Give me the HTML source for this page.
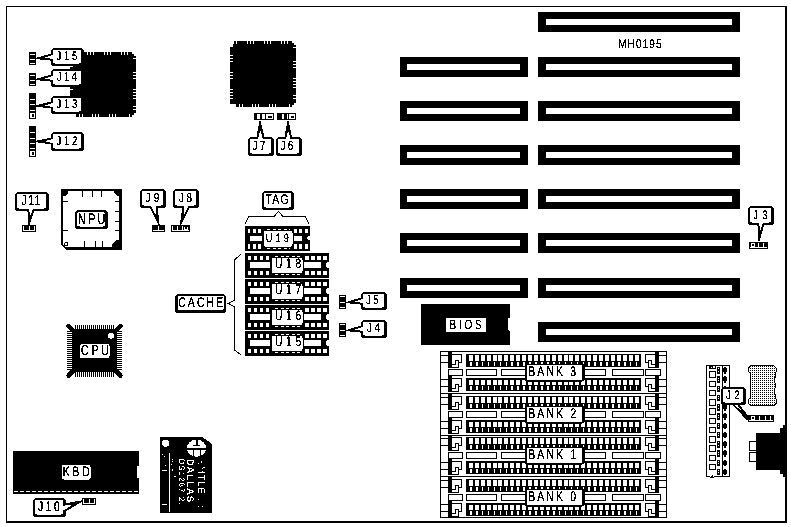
<!DOCTYPE html>
<html><head><meta charset="utf-8"><title>MH0195</title>
<style>
html,body{margin:0;padding:0;background:#fff;overflow:hidden;}
svg{display:block;}
text{font-family:"Liberation Sans",sans-serif;}
</style></head>
<body>
<svg width="791" height="527" viewBox="0 0 791 527" shape-rendering="crispEdges" text-rendering="geometricPrecision">
<defs><filter id="bw" x="0" y="0" width="791" height="527" filterUnits="userSpaceOnUse" color-interpolation-filters="sRGB"><feColorMatrix type="saturate" values="0"/><feComponentTransfer><feFuncR type="discrete" tableValues="0 0 0 1 1"/><feFuncG type="discrete" tableValues="0 0 0 1 1"/><feFuncB type="discrete" tableValues="0 0 0 1 1"/></feComponentTransfer></filter></defs>
<g filter="url(#bw)">
<rect x="0" y="0" width="791" height="527" fill="#fff"/>
<rect x="6" y="6" width="1" height="517" fill="#000"/>
<rect x="6" y="6" width="781" height="1" fill="#000"/>
<rect x="785" y="6" width="2" height="517" fill="#000"/>
<rect x="6" y="521" width="781" height="2" fill="#000"/>
<polygon points="74,52 132,52 132,54 134,54 134,56 136,56 136,113 134,113 134,115 132,115 132,117 76,117 76,114 70,114 70,58 73,58 73,55 74,55" fill="#000"/>
<rect x="76" y="52" width="1" height="3" fill="#fff"/>
<rect x="87" y="52" width="1" height="3" fill="#fff"/>
<rect x="90" y="52" width="1" height="3" fill="#fff"/>
<rect x="93" y="52" width="1" height="3" fill="#fff"/>
<rect x="104" y="52" width="1" height="3" fill="#fff"/>
<rect x="107" y="52" width="1" height="3" fill="#fff"/>
<rect x="110" y="52" width="1" height="3" fill="#fff"/>
<rect x="121" y="52" width="1" height="3" fill="#fff"/>
<rect x="124" y="52" width="1" height="3" fill="#fff"/>
<rect x="127" y="52" width="1" height="3" fill="#fff"/>
<rect x="79" y="114" width="1" height="3" fill="#fff"/>
<rect x="82" y="114" width="1" height="3" fill="#fff"/>
<rect x="92" y="114" width="1" height="3" fill="#fff"/>
<rect x="95" y="114" width="1" height="3" fill="#fff"/>
<rect x="98" y="114" width="1" height="3" fill="#fff"/>
<rect x="109" y="114" width="1" height="3" fill="#fff"/>
<rect x="112" y="114" width="1" height="3" fill="#fff"/>
<rect x="115" y="114" width="1" height="3" fill="#fff"/>
<rect x="129" y="114" width="1" height="3" fill="#fff"/>
<rect x="70" y="66" width="3" height="1" fill="#fff"/>
<rect x="70" y="69" width="3" height="1" fill="#fff"/>
<rect x="70" y="72" width="3" height="1" fill="#fff"/>
<rect x="70" y="83" width="3" height="1" fill="#fff"/>
<rect x="70" y="86" width="3" height="1" fill="#fff"/>
<rect x="70" y="89" width="3" height="1" fill="#fff"/>
<rect x="70" y="100" width="3" height="1" fill="#fff"/>
<rect x="70" y="103" width="3" height="1" fill="#fff"/>
<rect x="70" y="106" width="3" height="1" fill="#fff"/>
<rect x="70" y="109" width="3" height="1" fill="#fff"/>
<rect x="133" y="58" width="3" height="1" fill="#fff"/>
<rect x="133" y="72" width="3" height="1" fill="#fff"/>
<rect x="133" y="75" width="3" height="1" fill="#fff"/>
<rect x="133" y="78" width="3" height="1" fill="#fff"/>
<rect x="133" y="89" width="3" height="1" fill="#fff"/>
<rect x="133" y="92" width="3" height="1" fill="#fff"/>
<rect x="133" y="95" width="3" height="1" fill="#fff"/>
<rect x="133" y="98" width="3" height="1" fill="#fff"/>
<rect x="133" y="106" width="3" height="1" fill="#fff"/>
<rect x="133" y="109" width="3" height="1" fill="#fff"/>
<polygon points="234,41 292,41 292,43 294,43 294,45 296,45 296,103 294,103 294,105 292,105 292,107 236,107 236,104 230,104 230,47 233,47 233,44 234,44" fill="#000"/>
<rect x="236" y="41" width="1" height="3" fill="#fff"/>
<rect x="247" y="41" width="1" height="3" fill="#fff"/>
<rect x="250" y="41" width="1" height="3" fill="#fff"/>
<rect x="253" y="41" width="1" height="3" fill="#fff"/>
<rect x="264" y="41" width="1" height="3" fill="#fff"/>
<rect x="267" y="41" width="1" height="3" fill="#fff"/>
<rect x="270" y="41" width="1" height="3" fill="#fff"/>
<rect x="281" y="41" width="1" height="3" fill="#fff"/>
<rect x="284" y="41" width="1" height="3" fill="#fff"/>
<rect x="287" y="41" width="1" height="3" fill="#fff"/>
<rect x="239" y="104" width="1" height="3" fill="#fff"/>
<rect x="242" y="104" width="1" height="3" fill="#fff"/>
<rect x="252" y="104" width="1" height="3" fill="#fff"/>
<rect x="255" y="104" width="1" height="3" fill="#fff"/>
<rect x="258" y="104" width="1" height="3" fill="#fff"/>
<rect x="269" y="104" width="1" height="3" fill="#fff"/>
<rect x="272" y="104" width="1" height="3" fill="#fff"/>
<rect x="275" y="104" width="1" height="3" fill="#fff"/>
<rect x="289" y="104" width="1" height="3" fill="#fff"/>
<rect x="230" y="55" width="3" height="1" fill="#fff"/>
<rect x="230" y="58" width="3" height="1" fill="#fff"/>
<rect x="230" y="61" width="3" height="1" fill="#fff"/>
<rect x="230" y="72" width="3" height="1" fill="#fff"/>
<rect x="230" y="75" width="3" height="1" fill="#fff"/>
<rect x="230" y="78" width="3" height="1" fill="#fff"/>
<rect x="230" y="89" width="3" height="1" fill="#fff"/>
<rect x="230" y="92" width="3" height="1" fill="#fff"/>
<rect x="230" y="95" width="3" height="1" fill="#fff"/>
<rect x="230" y="98" width="3" height="1" fill="#fff"/>
<rect x="293" y="47" width="3" height="1" fill="#fff"/>
<rect x="293" y="61" width="3" height="1" fill="#fff"/>
<rect x="293" y="64" width="3" height="1" fill="#fff"/>
<rect x="293" y="67" width="3" height="1" fill="#fff"/>
<rect x="293" y="78" width="3" height="1" fill="#fff"/>
<rect x="293" y="81" width="3" height="1" fill="#fff"/>
<rect x="293" y="84" width="3" height="1" fill="#fff"/>
<rect x="293" y="87" width="3" height="1" fill="#fff"/>
<rect x="293" y="95" width="3" height="1" fill="#fff"/>
<rect x="293" y="98" width="3" height="1" fill="#fff"/>
<rect x="29" y="52" width="7" height="13" fill="#000"/>
<rect x="30" y="54" width="5" height="1" fill="#fff"/>
<rect x="30" y="59" width="5" height="1" fill="#fff"/>
<rect x="30" y="63" width="5" height="1" fill="#fff"/>
<rect x="29" y="73" width="7" height="13" fill="#000"/>
<rect x="30" y="75" width="5" height="1" fill="#fff"/>
<rect x="30" y="80" width="5" height="1" fill="#fff"/>
<rect x="30" y="84" width="5" height="1" fill="#fff"/>
<rect x="29" y="93" width="7" height="26" fill="#000"/>
<rect x="30" y="99" width="5" height="1" fill="#fff"/>
<rect x="30" y="104" width="5" height="1" fill="#fff"/>
<rect x="30" y="110" width="5" height="1" fill="#fff"/>
<rect x="30" y="113" width="5" height="5" fill="#fff"/>
<rect x="31.5" y="114.2" width="2.0" height="2.6" fill="#000"/>
<rect x="29" y="126" width="7" height="31" fill="#000"/>
<rect x="30" y="132" width="5" height="1" fill="#fff"/>
<rect x="30" y="138" width="5" height="1" fill="#fff"/>
<rect x="30" y="143" width="5" height="1" fill="#fff"/>
<rect x="30" y="148" width="5" height="1" fill="#fff"/>
<rect x="30" y="151" width="5" height="5" fill="#fff"/>
<rect x="31.5" y="152.2" width="2.0" height="2.6" fill="#000"/>
<polygon points="36,58.5 52,54 52,60" fill="#000" stroke="#000" stroke-width="1.3" stroke-linejoin="round"/>
<rect x="51" y="48" width="33" height="18" rx="3.5" ry="3.5" fill="#000"/>
<rect x="52.5" y="49.5" width="28.5" height="14.0" rx="2.5" ry="2.5" fill="#fff"/>
<polygon points="44.8,57.67 52.0,55.14 55.19,54.84 55.19,58.56 52.0,58.86" fill="#fff"/>
<text transform="translate(56.51,60.0) scale(0.75,1)" font-size="12.5" font-weight="normal" letter-spacing="3.74" fill="#000" stroke="#000" stroke-width="0.12">J15</text>
<polygon points="36,79.5 52,75 52,81" fill="#000" stroke="#000" stroke-width="1.3" stroke-linejoin="round"/>
<rect x="51" y="69" width="33" height="18" rx="3.5" ry="3.5" fill="#000"/>
<rect x="52.5" y="70.5" width="28.5" height="14.0" rx="2.5" ry="2.5" fill="#fff"/>
<polygon points="44.8,78.67 52.0,76.14 55.19,75.84 55.19,79.56 52.0,79.86" fill="#fff"/>
<text transform="translate(56.86,81.05) scale(0.75,1)" font-size="12.65" font-weight="normal" letter-spacing="3.09" fill="#000" stroke="#000" stroke-width="0.12">J14</text>
<polygon points="36,106 52,102 52,108" fill="#000" stroke="#000" stroke-width="1.3" stroke-linejoin="round"/>
<rect x="51" y="96" width="33" height="18" rx="3.5" ry="3.5" fill="#000"/>
<rect x="52.5" y="97.5" width="28.5" height="14.0" rx="2.5" ry="2.5" fill="#fff"/>
<polygon points="44.8,105.45 52.0,103.14 55.19,102.94 55.19,106.66 52.0,106.86" fill="#fff"/>
<text transform="translate(56.61,108.0) scale(0.75,1)" font-size="12.5" font-weight="normal" letter-spacing="3.62" fill="#000" stroke="#000" stroke-width="0.12">J13</text>
<polygon points="36,141.5 52,138 52,144" fill="#000" stroke="#000" stroke-width="1.3" stroke-linejoin="round"/>
<rect x="51" y="132" width="33" height="19" rx="3.5" ry="3.5" fill="#000"/>
<rect x="52.5" y="133.5" width="28.5" height="15.0" rx="2.5" ry="2.5" fill="#fff"/>
<polygon points="44.8,141.22 52.0,139.14 55.2,139.04 55.2,142.76 52.0,142.86" fill="#fff"/>
<text transform="translate(56.61,144.5) scale(0.75,1)" font-size="12.5" font-weight="normal" letter-spacing="3.66" fill="#000" stroke="#000" stroke-width="0.12">J12</text>
<rect x="254" y="113" width="20" height="7" fill="#000"/>
<rect x="257" y="114" width="2.5" height="5" fill="#fff"/>
<rect x="262" y="114" width="2.5" height="5" fill="#fff"/>
<rect x="266" y="114" width="7" height="5" fill="#fff"/>
<rect x="267.5" y="115.5" width="4.0" height="2.0" fill="#000"/>
<rect x="277" y="113" width="19" height="7" fill="#000"/>
<rect x="282" y="114" width="2" height="5" fill="#fff"/>
<rect x="286.5" y="114" width="1.5" height="5" fill="#fff"/>
<rect x="289" y="114" width="6" height="5" fill="#fff"/>
<rect x="290.5" y="115.5" width="3.0" height="2.0" fill="#000"/>
<polygon points="260,121 257,138 264,138" fill="#000" stroke="#000" stroke-width="1.3" stroke-linejoin="round"/>
<rect x="248" y="137" width="26" height="19" rx="3.5" ry="3.5" fill="#000"/>
<rect x="249.5" y="138.5" width="21.5" height="15.0" rx="2.5" ry="2.5" fill="#fff"/>
<polygon points="260.27,130.35 258.33,138.0 258.42,141.2 262.76,141.2 262.67,138.0" fill="#fff"/>
<text transform="translate(252.6,149.75) scale(0.75,1)" font-size="13.23" font-weight="normal" letter-spacing="2.89" fill="#000" stroke="#000" stroke-width="0.12">J7</text>
<polygon points="288,121 285,138 291.5,138" fill="#000" stroke="#000" stroke-width="1.3" stroke-linejoin="round"/>
<rect x="276" y="137" width="26" height="19" rx="3.5" ry="3.5" fill="#000"/>
<rect x="277.5" y="138.5" width="21.5" height="15.0" rx="2.5" ry="2.5" fill="#fff"/>
<polygon points="288.14,130.35 286.24,138.0 286.28,141.2 290.31,141.2 290.26,138.0" fill="#fff"/>
<text transform="translate(280.6,149.75) scale(0.75,1)" font-size="13.23" font-weight="normal" letter-spacing="2.8" fill="#000" stroke="#000" stroke-width="0.12">J6</text>
<polygon points="29,225 28,209 34,209" fill="#000" stroke="#000" stroke-width="1.3" stroke-linejoin="round"/>
<rect x="15" y="192" width="34" height="19" rx="3.5" ry="3.5" fill="#000"/>
<rect x="16.5" y="193.5" width="29.5" height="15.0" rx="2.5" ry="2.5" fill="#fff"/>
<polygon points="30.1,216.2 29.14,209.0 29.54,205.82 33.26,205.82 32.86,209.0" fill="#fff"/>
<text transform="translate(21.59,205.15) scale(0.75,1)" font-size="14.39" font-weight="normal" letter-spacing="1.52" fill="#000" stroke="#000" stroke-width="0.12">J11</text>
<rect x="22" y="225" width="14" height="7" fill="#000"/>
<rect x="23" y="230" width="12" height="1" fill="#fff"/>
<rect x="23" y="226.2" width="1" height="4.3" fill="#fff"/>
<rect x="28.5" y="226.2" width="1.0" height="4.3" fill="#fff"/>
<rect x="34" y="226.2" width="1" height="4.3" fill="#fff"/>
<polygon points="159,225 150,207 157,207" fill="#000" stroke="#000" stroke-width="1.3" stroke-linejoin="round"/>
<rect x="140" y="189" width="26" height="19" rx="3.5" ry="3.5" fill="#000"/>
<rect x="141.5" y="190.5" width="21.5" height="15.0" rx="2.5" ry="2.5" fill="#fff"/>
<polygon points="155.97,215.1 151.33,207.0 150.39,203.94 154.73,203.94 155.67,207.0" fill="#fff"/>
<text transform="translate(145.6,201.75) scale(0.75,1)" font-size="13.23" font-weight="normal" letter-spacing="4.19" fill="#000" stroke="#000" stroke-width="0.12">J9</text>
<polygon points="180.5,225 183,207 189.5,207" fill="#000" stroke="#000" stroke-width="1.3" stroke-linejoin="round"/>
<rect x="173" y="189" width="26" height="19" rx="3.5" ry="3.5" fill="#000"/>
<rect x="174.5" y="190.5" width="21.5" height="15.0" rx="2.5" ry="2.5" fill="#fff"/>
<polygon points="183.66,215.1 184.24,207.0 185.21,203.95 189.24,203.95 188.26,207.0" fill="#fff"/>
<text transform="translate(178.75,201.75) scale(0.75,1)" font-size="13.23" font-weight="normal" letter-spacing="3.73" fill="#000" stroke="#000" stroke-width="0.12">J8</text>
<rect x="152" y="225" width="13" height="7" fill="#000"/>
<rect x="153" y="230" width="11" height="1" fill="#fff"/>
<rect x="158.0" y="226.2" width="1.0" height="4.3" fill="#fff"/>
<rect x="171" y="225" width="19" height="7" fill="#000"/>
<rect x="172" y="229.5" width="17" height="1.5" fill="#fff"/>
<rect x="172" y="226" width="1" height="3.5" fill="#fff"/>
<rect x="177" y="226" width="1" height="3.5" fill="#fff"/>
<rect x="182" y="226" width="1" height="3.5" fill="#fff"/>
<rect x="184" y="226.5" width="4" height="3.0" fill="#fff"/>
<rect x="185.3" y="227.3" width="1.7" height="1.4" fill="#000"/>
<rect x="61" y="189" width="61" height="61" fill="#000"/>
<rect x="63" y="191" width="56" height="56" fill="#fff"/>
<polygon points="63,191 68,191 68,193 65,196 63,196" fill="#000"/>
<polygon points="119,191 114,191 114,193 117,196 119,196" fill="#000"/>
<polygon points="119,247 112,247 112,244 116,240 119,240" fill="#000"/>
<polygon points="61,250 61,244 67,250" fill="#fff"/>
<polygon points="61,243 68,250 66,250 61,245" fill="#000"/>
<circle cx="66" cy="244" r="2" fill="#fff" stroke="#000" stroke-width="0.8"/>
<rect x="82" y="191" width="1" height="6" fill="#000"/>
<rect x="92" y="191" width="1" height="6" fill="#000"/>
<rect x="101" y="191" width="1" height="6" fill="#000"/>
<rect x="84" y="241" width="1" height="6" fill="#000"/>
<rect x="95" y="241" width="1" height="6" fill="#000"/>
<rect x="102" y="241" width="1" height="6" fill="#000"/>
<rect x="63" y="201" width="5" height="1" fill="#000"/>
<rect x="63" y="230" width="5" height="1" fill="#000"/>
<rect x="115" y="201" width="4" height="1" fill="#000"/>
<rect x="115" y="211" width="4" height="1" fill="#000"/>
<rect x="115" y="221" width="4" height="1" fill="#000"/>
<rect x="115" y="230" width="4" height="1" fill="#000"/>
<rect x="75" y="210" width="33" height="19" rx="3.5" ry="3.5" fill="#000"/>
<rect x="77" y="212" width="28" height="14.5" rx="2.5" ry="2.5" fill="#fff"/>
<text transform="translate(77.77,223.65) scale(0.75,1)" font-size="15.12" font-weight="normal" letter-spacing="2.57" fill="#000" stroke="#000" stroke-width="0.12">NPU</text>
<rect x="262" y="191" width="32" height="19" rx="3.5" ry="3.5" fill="#000"/>
<rect x="263.5" y="192.5" width="27.5" height="15.0" rx="2.5" ry="2.5" fill="#fff"/>
<text transform="translate(265.52,204.0) scale(0.75,1)" font-size="13.95" font-weight="normal" letter-spacing="1.66" fill="#000" stroke="#000" stroke-width="0.12">TAG</text>
<polyline points="245,223.5 249,216.5 274,216.5 278.5,211.5 283,216.5 305,216.5 309,223.5" fill="none" stroke="#000" stroke-width="1"/>
<rect x="245" y="226" width="65" height="25" fill="#000"/>
<rect x="247.5" y="228.5" width="2.9" height="4.5" fill="#fff"/>
<rect x="247.5" y="244" width="2.9" height="4.5" fill="#fff"/>
<rect x="304.6" y="228.5" width="2.9" height="4.5" fill="#fff"/>
<rect x="304.6" y="244" width="2.9" height="4.5" fill="#fff"/>
<rect x="252.8" y="228.5" width="3.0" height="4.5" fill="#fff"/>
<rect x="252.8" y="244" width="3.0" height="4.5" fill="#fff"/>
<rect x="299.2" y="228.5" width="3.0" height="4.5" fill="#fff"/>
<rect x="299.2" y="244" width="3.0" height="4.5" fill="#fff"/>
<rect x="258.2" y="228.5" width="2.9" height="4.5" fill="#fff"/>
<rect x="258.2" y="244" width="2.9" height="4.5" fill="#fff"/>
<rect x="293.9" y="228.5" width="2.9" height="4.5" fill="#fff"/>
<rect x="293.9" y="244" width="2.9" height="4.5" fill="#fff"/>
<rect x="250" y="236" width="13" height="4.5" fill="#fff"/>
<rect x="293" y="236" width="9" height="4.5" fill="#fff"/>
<polygon points="310,236 308,236.5 306.5,238.25 308,240.0 310,240.5" fill="#fff"/>
<rect x="262.4" y="228.3" width="31.2" height="20.2" rx="2" ry="2" fill="#000"/>
<rect x="263.5" y="230.6" width="29" height="16" rx="2.5" ry="2.5" fill="#fff"/>
<line x1="267" y1="229" x2="290" y2="229" stroke="#fff" stroke-width="1" stroke-dasharray="3,2.5"/>
<line x1="267" y1="248" x2="290" y2="248" stroke="#fff" stroke-width="1" stroke-dasharray="3,2.5"/>
<text transform="translate(265.69,241.5) scale(0.75,1)" font-size="12.21" font-weight="normal" letter-spacing="4.23" fill="#000" stroke="#000" stroke-width="0.12">U19</text>
<rect x="245" y="253" width="84" height="24.5" fill="#000"/>
<rect x="247.5" y="255.5" width="3.3" height="4.5" fill="#fff"/>
<rect x="247.5" y="270.5" width="3.3" height="4.5" fill="#fff"/>
<rect x="323.2" y="255.5" width="3.3" height="4.5" fill="#fff"/>
<rect x="323.2" y="270.5" width="3.3" height="4.5" fill="#fff"/>
<rect x="253.5" y="255.5" width="3.3" height="4.5" fill="#fff"/>
<rect x="253.5" y="270.5" width="3.3" height="4.5" fill="#fff"/>
<rect x="317.2" y="255.5" width="3.3" height="4.5" fill="#fff"/>
<rect x="317.2" y="270.5" width="3.3" height="4.5" fill="#fff"/>
<rect x="259.5" y="255.5" width="3.3" height="4.5" fill="#fff"/>
<rect x="259.5" y="270.5" width="3.3" height="4.5" fill="#fff"/>
<rect x="311.2" y="255.5" width="3.3" height="4.5" fill="#fff"/>
<rect x="311.2" y="270.5" width="3.3" height="4.5" fill="#fff"/>
<rect x="265.5" y="255.5" width="3.3" height="4.5" fill="#fff"/>
<rect x="265.5" y="270.5" width="3.3" height="4.5" fill="#fff"/>
<rect x="305.2" y="255.5" width="3.3" height="4.5" fill="#fff"/>
<rect x="305.2" y="270.5" width="3.3" height="4.5" fill="#fff"/>
<rect x="250" y="262" width="21" height="6" fill="#fff"/>
<rect x="303" y="262" width="18" height="6" fill="#fff"/>
<polygon points="329,262 327,262.5 325.5,265.0 327,267.5 329,268" fill="#fff"/>
<rect x="270.4" y="255.3" width="33.2" height="19.7" rx="2" ry="2" fill="#000"/>
<rect x="271.5" y="257.6" width="31" height="15.5" rx="2.5" ry="2.5" fill="#fff"/>
<line x1="275" y1="256" x2="300" y2="256" stroke="#fff" stroke-width="1" stroke-dasharray="3,2.5"/>
<line x1="275" y1="274.5" x2="300" y2="274.5" stroke="#fff" stroke-width="1" stroke-dasharray="3,2.5"/>
<text transform="translate(274.91,268.25) scale(0.75,1)" font-size="13.66" font-weight="normal" letter-spacing="4.96" fill="#000" stroke="#000" stroke-width="0.12">U18</text>
<rect x="245" y="279" width="84" height="24.5" fill="#000"/>
<rect x="247.5" y="281.5" width="3.3" height="4.5" fill="#fff"/>
<rect x="247.5" y="296.5" width="3.3" height="4.5" fill="#fff"/>
<rect x="323.2" y="281.5" width="3.3" height="4.5" fill="#fff"/>
<rect x="323.2" y="296.5" width="3.3" height="4.5" fill="#fff"/>
<rect x="253.5" y="281.5" width="3.3" height="4.5" fill="#fff"/>
<rect x="253.5" y="296.5" width="3.3" height="4.5" fill="#fff"/>
<rect x="317.2" y="281.5" width="3.3" height="4.5" fill="#fff"/>
<rect x="317.2" y="296.5" width="3.3" height="4.5" fill="#fff"/>
<rect x="259.5" y="281.5" width="3.3" height="4.5" fill="#fff"/>
<rect x="259.5" y="296.5" width="3.3" height="4.5" fill="#fff"/>
<rect x="311.2" y="281.5" width="3.3" height="4.5" fill="#fff"/>
<rect x="311.2" y="296.5" width="3.3" height="4.5" fill="#fff"/>
<rect x="265.5" y="281.5" width="3.3" height="4.5" fill="#fff"/>
<rect x="265.5" y="296.5" width="3.3" height="4.5" fill="#fff"/>
<rect x="305.2" y="281.5" width="3.3" height="4.5" fill="#fff"/>
<rect x="305.2" y="296.5" width="3.3" height="4.5" fill="#fff"/>
<rect x="250" y="288" width="21" height="6" fill="#fff"/>
<rect x="303" y="288" width="18" height="6" fill="#fff"/>
<polygon points="329,288 327,288.5 325.5,291.0 327,293.5 329,294" fill="#fff"/>
<rect x="270.4" y="281.3" width="33.2" height="19.7" rx="2" ry="2" fill="#000"/>
<rect x="271.5" y="283.6" width="31" height="15.5" rx="2.5" ry="2.5" fill="#fff"/>
<line x1="275" y1="282" x2="300" y2="282" stroke="#fff" stroke-width="1" stroke-dasharray="3,2.5"/>
<line x1="275" y1="300.5" x2="300" y2="300.5" stroke="#fff" stroke-width="1" stroke-dasharray="3,2.5"/>
<text transform="translate(274.91,294.25) scale(0.75,1)" font-size="13.66" font-weight="normal" letter-spacing="5.0" fill="#000" stroke="#000" stroke-width="0.12">U17</text>
<rect x="245" y="305" width="84" height="24.5" fill="#000"/>
<rect x="247.5" y="307.5" width="3.3" height="4.5" fill="#fff"/>
<rect x="247.5" y="322.5" width="3.3" height="4.5" fill="#fff"/>
<rect x="323.2" y="307.5" width="3.3" height="4.5" fill="#fff"/>
<rect x="323.2" y="322.5" width="3.3" height="4.5" fill="#fff"/>
<rect x="253.5" y="307.5" width="3.3" height="4.5" fill="#fff"/>
<rect x="253.5" y="322.5" width="3.3" height="4.5" fill="#fff"/>
<rect x="317.2" y="307.5" width="3.3" height="4.5" fill="#fff"/>
<rect x="317.2" y="322.5" width="3.3" height="4.5" fill="#fff"/>
<rect x="259.5" y="307.5" width="3.3" height="4.5" fill="#fff"/>
<rect x="259.5" y="322.5" width="3.3" height="4.5" fill="#fff"/>
<rect x="311.2" y="307.5" width="3.3" height="4.5" fill="#fff"/>
<rect x="311.2" y="322.5" width="3.3" height="4.5" fill="#fff"/>
<rect x="265.5" y="307.5" width="3.3" height="4.5" fill="#fff"/>
<rect x="265.5" y="322.5" width="3.3" height="4.5" fill="#fff"/>
<rect x="305.2" y="307.5" width="3.3" height="4.5" fill="#fff"/>
<rect x="305.2" y="322.5" width="3.3" height="4.5" fill="#fff"/>
<rect x="250" y="314" width="21" height="6" fill="#fff"/>
<rect x="303" y="314" width="18" height="6" fill="#fff"/>
<polygon points="329,314 327,314.5 325.5,317.0 327,319.5 329,320" fill="#fff"/>
<rect x="270.4" y="307.3" width="33.2" height="19.7" rx="2" ry="2" fill="#000"/>
<rect x="271.5" y="309.6" width="31" height="15.5" rx="2.5" ry="2.5" fill="#fff"/>
<line x1="275" y1="308" x2="300" y2="308" stroke="#fff" stroke-width="1" stroke-dasharray="3,2.5"/>
<line x1="275" y1="326.5" x2="300" y2="326.5" stroke="#fff" stroke-width="1" stroke-dasharray="3,2.5"/>
<text transform="translate(274.91,320.25) scale(0.75,1)" font-size="13.66" font-weight="normal" letter-spacing="4.96" fill="#000" stroke="#000" stroke-width="0.12">U16</text>
<rect x="245" y="331" width="84" height="24.5" fill="#000"/>
<rect x="247.5" y="333.5" width="3.3" height="4.5" fill="#fff"/>
<rect x="247.5" y="348.5" width="3.3" height="4.5" fill="#fff"/>
<rect x="323.2" y="333.5" width="3.3" height="4.5" fill="#fff"/>
<rect x="323.2" y="348.5" width="3.3" height="4.5" fill="#fff"/>
<rect x="253.5" y="333.5" width="3.3" height="4.5" fill="#fff"/>
<rect x="253.5" y="348.5" width="3.3" height="4.5" fill="#fff"/>
<rect x="317.2" y="333.5" width="3.3" height="4.5" fill="#fff"/>
<rect x="317.2" y="348.5" width="3.3" height="4.5" fill="#fff"/>
<rect x="259.5" y="333.5" width="3.3" height="4.5" fill="#fff"/>
<rect x="259.5" y="348.5" width="3.3" height="4.5" fill="#fff"/>
<rect x="311.2" y="333.5" width="3.3" height="4.5" fill="#fff"/>
<rect x="311.2" y="348.5" width="3.3" height="4.5" fill="#fff"/>
<rect x="265.5" y="333.5" width="3.3" height="4.5" fill="#fff"/>
<rect x="265.5" y="348.5" width="3.3" height="4.5" fill="#fff"/>
<rect x="305.2" y="333.5" width="3.3" height="4.5" fill="#fff"/>
<rect x="305.2" y="348.5" width="3.3" height="4.5" fill="#fff"/>
<rect x="250" y="340" width="21" height="6" fill="#fff"/>
<rect x="303" y="340" width="18" height="6" fill="#fff"/>
<polygon points="329,340 327,340.5 325.5,343.0 327,345.5 329,346" fill="#fff"/>
<rect x="270.4" y="333.3" width="33.2" height="19.7" rx="2" ry="2" fill="#000"/>
<rect x="271.5" y="335.6" width="31" height="15.5" rx="2.5" ry="2.5" fill="#fff"/>
<line x1="275" y1="334" x2="300" y2="334" stroke="#fff" stroke-width="1" stroke-dasharray="3,2.5"/>
<line x1="275" y1="352.5" x2="300" y2="352.5" stroke="#fff" stroke-width="1" stroke-dasharray="3,2.5"/>
<text transform="translate(274.91,346.25) scale(0.75,1)" font-size="13.66" font-weight="normal" letter-spacing="4.94" fill="#000" stroke="#000" stroke-width="0.12">U15</text>
<rect x="175" y="294" width="51" height="19" rx="3.5" ry="3.5" fill="#000"/>
<rect x="177.5" y="295.5" width="46.5" height="14.5" rx="2.5" ry="2.5" fill="#fff"/>
<text transform="translate(178.23,306.75) scale(0.75,1)" font-size="13.95" font-weight="normal" letter-spacing="2.78" fill="#000" stroke="#000" stroke-width="0.12">CACHE</text>
<polyline points="241,254 235,259.5 234.5,300 228.5,303.5 234.5,307 234.5,350 241,355" fill="none" stroke="#000" stroke-width="1"/>
<rect x="339" y="295" width="7" height="14" fill="#000"/>
<rect x="340" y="296" width="5" height="1" fill="#fff"/>
<rect x="340" y="302" width="5" height="1" fill="#fff"/>
<rect x="340" y="307" width="5" height="1" fill="#fff"/>
<rect x="339" y="323" width="7" height="14" fill="#000"/>
<rect x="340" y="324" width="5" height="1" fill="#fff"/>
<rect x="340" y="330" width="5" height="1" fill="#fff"/>
<rect x="340" y="335" width="5" height="1" fill="#fff"/>
<polygon points="346.5,302.5 362,298 362,304" fill="#000" stroke="#000" stroke-width="1.3" stroke-linejoin="round"/>
<rect x="361" y="292" width="26" height="18" rx="3.5" ry="3.5" fill="#000"/>
<rect x="362.5" y="293.5" width="21.5" height="14.0" rx="2.5" ry="2.5" fill="#fff"/>
<polygon points="355.02,301.68 362.0,299.14 365.19,298.83 365.19,302.55 362.0,302.86" fill="#fff"/>
<text transform="translate(366.0,304.15) scale(0.75,1)" font-size="12.94" font-weight="normal" letter-spacing="3.33" fill="#000" stroke="#000" stroke-width="0.12">J5</text>
<polygon points="346.5,330.5 362,326 362,332" fill="#000" stroke="#000" stroke-width="1.3" stroke-linejoin="round"/>
<rect x="361" y="320" width="26" height="18" rx="3.5" ry="3.5" fill="#000"/>
<rect x="362.5" y="321.5" width="21.5" height="14.0" rx="2.5" ry="2.5" fill="#fff"/>
<polygon points="355.02,329.68 362.0,327.14 365.19,326.83 365.19,330.55 362.0,330.86" fill="#fff"/>
<text transform="translate(366.96,332.05) scale(0.75,1)" font-size="12.65" font-weight="normal" letter-spacing="3.6" fill="#000" stroke="#000" stroke-width="0.12">J4</text>
<rect x="72" y="329" width="45" height="43" fill="#000"/>
<rect x="75" y="325" width="1" height="4" fill="#000"/>
<rect x="75" y="372" width="1" height="4.5" fill="#000"/>
<rect x="77" y="325" width="1" height="4" fill="#000"/>
<rect x="77" y="372" width="1" height="4.5" fill="#000"/>
<rect x="79" y="325" width="1" height="4" fill="#000"/>
<rect x="79" y="372" width="1" height="4.5" fill="#000"/>
<rect x="81" y="325" width="1" height="4" fill="#000"/>
<rect x="81" y="372" width="1" height="4.5" fill="#000"/>
<rect x="83" y="325" width="1" height="4" fill="#000"/>
<rect x="83" y="372" width="1" height="4.5" fill="#000"/>
<rect x="85" y="325" width="1" height="4" fill="#000"/>
<rect x="85" y="372" width="1" height="4.5" fill="#000"/>
<rect x="87" y="325" width="1" height="4" fill="#000"/>
<rect x="87" y="372" width="1" height="4.5" fill="#000"/>
<rect x="89" y="325" width="1" height="4" fill="#000"/>
<rect x="89" y="372" width="1" height="4.5" fill="#000"/>
<rect x="91" y="325" width="1" height="4" fill="#000"/>
<rect x="91" y="372" width="1" height="4.5" fill="#000"/>
<rect x="93" y="325" width="1" height="4" fill="#000"/>
<rect x="93" y="372" width="1" height="4.5" fill="#000"/>
<rect x="95" y="325" width="1" height="4" fill="#000"/>
<rect x="95" y="372" width="1" height="4.5" fill="#000"/>
<rect x="97" y="325" width="1" height="4" fill="#000"/>
<rect x="97" y="372" width="1" height="4.5" fill="#000"/>
<rect x="99" y="325" width="1" height="4" fill="#000"/>
<rect x="99" y="372" width="1" height="4.5" fill="#000"/>
<rect x="101" y="325" width="1" height="4" fill="#000"/>
<rect x="101" y="372" width="1" height="4.5" fill="#000"/>
<rect x="103" y="325" width="1" height="4" fill="#000"/>
<rect x="103" y="372" width="1" height="4.5" fill="#000"/>
<rect x="105" y="325" width="1" height="4" fill="#000"/>
<rect x="105" y="372" width="1" height="4.5" fill="#000"/>
<rect x="107" y="325" width="1" height="4" fill="#000"/>
<rect x="107" y="372" width="1" height="4.5" fill="#000"/>
<rect x="109" y="325" width="1" height="4" fill="#000"/>
<rect x="109" y="372" width="1" height="4.5" fill="#000"/>
<rect x="111" y="325" width="1" height="4" fill="#000"/>
<rect x="111" y="372" width="1" height="4.5" fill="#000"/>
<rect x="113" y="325" width="1" height="4" fill="#000"/>
<rect x="113" y="372" width="1" height="4.5" fill="#000"/>
<rect x="67" y="331" width="5" height="1" fill="#000"/>
<rect x="117" y="331" width="5" height="1" fill="#000"/>
<rect x="67" y="333" width="5" height="1" fill="#000"/>
<rect x="117" y="333" width="5" height="1" fill="#000"/>
<rect x="67" y="335" width="5" height="1" fill="#000"/>
<rect x="117" y="335" width="5" height="1" fill="#000"/>
<rect x="67" y="337" width="5" height="1" fill="#000"/>
<rect x="117" y="337" width="5" height="1" fill="#000"/>
<rect x="67" y="339" width="5" height="1" fill="#000"/>
<rect x="117" y="339" width="5" height="1" fill="#000"/>
<rect x="67" y="341" width="5" height="1" fill="#000"/>
<rect x="117" y="341" width="5" height="1" fill="#000"/>
<rect x="67" y="343" width="5" height="1" fill="#000"/>
<rect x="117" y="343" width="5" height="1" fill="#000"/>
<rect x="67" y="345" width="5" height="1" fill="#000"/>
<rect x="117" y="345" width="5" height="1" fill="#000"/>
<rect x="67" y="347" width="5" height="1" fill="#000"/>
<rect x="117" y="347" width="5" height="1" fill="#000"/>
<rect x="67" y="349" width="5" height="1" fill="#000"/>
<rect x="117" y="349" width="5" height="1" fill="#000"/>
<rect x="67" y="351" width="5" height="1" fill="#000"/>
<rect x="117" y="351" width="5" height="1" fill="#000"/>
<rect x="67" y="353" width="5" height="1" fill="#000"/>
<rect x="117" y="353" width="5" height="1" fill="#000"/>
<rect x="67" y="355" width="5" height="1" fill="#000"/>
<rect x="117" y="355" width="5" height="1" fill="#000"/>
<rect x="67" y="357" width="5" height="1" fill="#000"/>
<rect x="117" y="357" width="5" height="1" fill="#000"/>
<rect x="67" y="359" width="5" height="1" fill="#000"/>
<rect x="117" y="359" width="5" height="1" fill="#000"/>
<rect x="67" y="361" width="5" height="1" fill="#000"/>
<rect x="117" y="361" width="5" height="1" fill="#000"/>
<rect x="67" y="363" width="5" height="1" fill="#000"/>
<rect x="117" y="363" width="5" height="1" fill="#000"/>
<rect x="67" y="365" width="5" height="1" fill="#000"/>
<rect x="117" y="365" width="5" height="1" fill="#000"/>
<rect x="67" y="367" width="5" height="1" fill="#000"/>
<rect x="117" y="367" width="5" height="1" fill="#000"/>
<rect x="67" y="369" width="5" height="1" fill="#000"/>
<rect x="117" y="369" width="5" height="1" fill="#000"/>
<line x1="68.5" y1="326" x2="74" y2="331.5" stroke="#000" stroke-width="4.6" stroke-linecap="round"/>
<line x1="120.5" y1="326" x2="115" y2="331.5" stroke="#000" stroke-width="4.6" stroke-linecap="round"/>
<line x1="68.5" y1="375.5" x2="74" y2="370" stroke="#000" stroke-width="4.6" stroke-linecap="round"/>
<line x1="120.5" y1="375.5" x2="115" y2="370" stroke="#000" stroke-width="4.6" stroke-linecap="round"/>
<circle cx="111" cy="335.8" r="3" fill="#fff"/>
<rect x="80" y="344" width="29.5" height="14" rx="2" ry="2" fill="#fff"/>
<text transform="translate(80.85,355.2) scale(0.75,1)" font-size="14.53" font-weight="normal" letter-spacing="3.57" fill="#000" stroke="#000" stroke-width="0.12">CPU</text>
<rect x="13" y="451" width="126" height="43" fill="#000"/>
<line x1="14" y1="491.5" x2="138" y2="491.5" stroke="#fff" stroke-width="1" stroke-dasharray="4,2"/>
<path d="M139,465.5 L137.5,466 Q136,471.5 137.5,477.5 L139,478 Z" fill="#fff"/>
<rect x="62" y="465" width="28.5" height="14.5" rx="1.5" ry="1.5" fill="#fff"/>
<text transform="translate(62.65,476) scale(0.75,1)" font-size="13.81" font-weight="normal" letter-spacing="3.9" fill="#000" stroke="#000" stroke-width="0.12">KBD</text>
<polygon points="82,501 65,504 65,511" fill="#000" stroke="#000" stroke-width="1.3" stroke-linejoin="round"/>
<rect x="33" y="498" width="33" height="19" rx="3.5" ry="3.5" fill="#000"/>
<rect x="34.5" y="499.5" width="28.5" height="15.0" rx="2.5" ry="2.5" fill="#fff"/>
<polygon points="72.65,504.57 65.0,505.33 62.01,506.47 62.01,510.81 65.0,509.67" fill="#fff"/>
<text transform="translate(37.99,510.95) scale(0.75,1)" font-size="13.81" font-weight="normal" letter-spacing="3.37" fill="#000" stroke="#000" stroke-width="0.12">J10</text>
<rect x="82" y="498" width="14" height="7" fill="#000"/>
<rect x="83" y="503" width="12" height="1" fill="#fff"/>
<rect x="83" y="499.2" width="1" height="4.3" fill="#fff"/>
<rect x="88.5" y="499.2" width="1.0" height="4.3" fill="#fff"/>
<rect x="94" y="499.2" width="1" height="4.3" fill="#fff"/>
<polygon points="160,437 202,437 211.5,443.5 211.5,513 160,513" fill="#000"/>
<circle cx="165.6" cy="443.2" r="3.7" fill="#fff"/>
<ellipse cx="196.5" cy="448.2" rx="9.7" ry="8.6" fill="#fff"/>
<rect x="186" y="448" width="21" height="2" fill="#000"/>
<rect x="196" y="439" width="2" height="7" fill="#000"/>
<rect x="193" y="445" width="7" height="1.2" fill="#000"/>
<rect x="193" y="450" width="1" height="7.5" fill="#000"/>
<rect x="199.5" y="450" width="1.0" height="7.5" fill="#000"/>
<rect x="169" y="453" width="1" height="59" fill="#fff"/>
<rect x="162" y="470" width="5" height="1" fill="#fff"/>
<rect x="162" y="504" width="5" height="1" fill="#fff"/>
<rect x="162" y="454" width="1" height="1" fill="#fff"/>
<rect x="164" y="456" width="1" height="1" fill="#fff"/>
<rect x="172" y="459" width="1" height="1" fill="#fff"/>
<rect x="171" y="464" width="1" height="1" fill="#fff"/>
<rect x="165" y="465" width="1" height="1" fill="#fff"/>
<rect x="172" y="469" width="1" height="1" fill="#fff"/>
<rect x="172" y="470" width="1" height="1" fill="#fff"/>
<rect x="174" y="476" width="1" height="1" fill="#fff"/>
<rect x="175" y="476" width="1" height="1" fill="#fff"/>
<rect x="172" y="461" width="1" height="1" fill="#fff"/>
<text transform="translate(186.6,458.7) rotate(90)" font-size="9.7" font-weight="bold" fill="#fff" letter-spacing="0.85">DALLAS</text>
<text transform="translate(179,458.7) rotate(90) scale(0.95,1)" font-size="8" fill="#fff" stroke="#fff" stroke-width="0.1" letter-spacing="1.3">DS1287 2.</text>
<text transform="translate(198,458.7) rotate(90) scale(0.95,1)" font-size="10" fill="#c8c8c8" letter-spacing="0.9">SMTLE:..:</text>
<rect x="538" y="12" width="202" height="20" fill="#000"/>
<rect x="546" y="19" width="186" height="6" fill="#fff"/>
<rect x="538" y="57" width="202" height="20" fill="#000"/>
<rect x="546" y="64" width="186" height="6" fill="#fff"/>
<rect x="538" y="101" width="202" height="20" fill="#000"/>
<rect x="546" y="108" width="186" height="6" fill="#fff"/>
<rect x="538" y="145" width="202" height="20" fill="#000"/>
<rect x="546" y="152" width="186" height="6" fill="#fff"/>
<rect x="538" y="189" width="202" height="20" fill="#000"/>
<rect x="546" y="196" width="186" height="6" fill="#fff"/>
<rect x="538" y="233" width="202" height="20" fill="#000"/>
<rect x="546" y="240" width="186" height="6" fill="#fff"/>
<rect x="538" y="278" width="202" height="20" fill="#000"/>
<rect x="546" y="285" width="186" height="6" fill="#fff"/>
<rect x="538" y="322" width="202" height="20" fill="#000"/>
<rect x="546" y="329" width="186" height="6" fill="#fff"/>
<rect x="400" y="57" width="128" height="20" fill="#000"/>
<rect x="407" y="64" width="113" height="6" fill="#fff"/>
<rect x="400" y="101" width="128" height="20" fill="#000"/>
<rect x="407" y="108" width="113" height="6" fill="#fff"/>
<rect x="400" y="145" width="128" height="20" fill="#000"/>
<rect x="407" y="152" width="113" height="6" fill="#fff"/>
<rect x="400" y="189" width="128" height="20" fill="#000"/>
<rect x="407" y="196" width="113" height="6" fill="#fff"/>
<rect x="400" y="233" width="128" height="20" fill="#000"/>
<rect x="407" y="240" width="113" height="6" fill="#fff"/>
<rect x="400" y="278" width="128" height="20" fill="#000"/>
<rect x="407" y="285" width="113" height="6" fill="#fff"/>
<text transform="translate(618.17,48) scale(0.8,1)" font-size="12.65" font-weight="normal" letter-spacing="1.28" fill="#000" stroke="#000" stroke-width="0.12">MH0195</text>
<rect x="421" y="304" width="89" height="41" fill="#000"/>
<path d="M510,317.5 L508,318.5 L508,330 L510,331 Z" fill="#fff"/>
<rect x="446" y="317.5" width="40" height="14.5" rx="1.5" ry="1.5" fill="#fff"/>
<text transform="translate(449.59,328.5) scale(0.75,1)" font-size="13.23" font-weight="normal" letter-spacing="3.71" fill="#000" stroke="#000" stroke-width="0.12">BIOS</text>
<rect x="440.5" y="351.5" width="226" height="166" fill="#fff" stroke="#000" stroke-width="1"/>
<rect x="466" y="353.5" width="175" height="13.0" fill="#000"/>
<rect x="468.8" y="355.3" width="4.0" height="5.4" fill="#fff"/>
<rect x="470.0" y="362.0" width="1.6" height="4.1" fill="#fff"/>
<rect x="474.7" y="355.3" width="4.0" height="5.4" fill="#fff"/>
<rect x="475.9" y="362.0" width="1.6" height="4.1" fill="#fff"/>
<rect x="480.6" y="355.3" width="4.0" height="5.4" fill="#fff"/>
<rect x="481.8" y="362.0" width="1.6" height="4.1" fill="#fff"/>
<rect x="486.6" y="355.3" width="4.0" height="5.4" fill="#fff"/>
<rect x="487.8" y="362.0" width="1.6" height="4.1" fill="#fff"/>
<rect x="492.5" y="355.3" width="4.0" height="5.4" fill="#fff"/>
<rect x="493.7" y="362.0" width="1.6" height="4.1" fill="#fff"/>
<rect x="498.4" y="355.3" width="4.0" height="5.4" fill="#fff"/>
<rect x="499.6" y="362.0" width="1.6" height="4.1" fill="#fff"/>
<rect x="504.3" y="355.3" width="4.0" height="5.4" fill="#fff"/>
<rect x="505.5" y="362.0" width="1.6" height="4.1" fill="#fff"/>
<rect x="510.2" y="355.3" width="4.0" height="5.4" fill="#fff"/>
<rect x="511.4" y="362.0" width="1.6" height="4.1" fill="#fff"/>
<rect x="516.2" y="355.3" width="4.0" height="5.4" fill="#fff"/>
<rect x="517.4" y="362.0" width="1.6" height="4.1" fill="#fff"/>
<rect x="522.1" y="355.3" width="4.0" height="5.4" fill="#fff"/>
<rect x="523.3" y="362.0" width="1.6" height="4.1" fill="#fff"/>
<rect x="528.0" y="355.3" width="4.0" height="5.4" fill="#fff"/>
<rect x="529.2" y="362.0" width="1.6" height="4.1" fill="#fff"/>
<rect x="533.9" y="355.3" width="4.0" height="5.4" fill="#fff"/>
<rect x="535.1" y="362.0" width="1.6" height="4.1" fill="#fff"/>
<rect x="539.8" y="355.3" width="4.0" height="5.4" fill="#fff"/>
<rect x="541.0" y="362.0" width="1.6" height="4.1" fill="#fff"/>
<rect x="545.8" y="355.3" width="4.0" height="5.4" fill="#fff"/>
<rect x="547.0" y="362.0" width="1.6" height="4.1" fill="#fff"/>
<rect x="551.7" y="355.3" width="4.0" height="5.4" fill="#fff"/>
<rect x="552.9" y="362.0" width="1.6" height="4.1" fill="#fff"/>
<rect x="557.6" y="355.3" width="4.0" height="5.4" fill="#fff"/>
<rect x="558.8" y="362.0" width="1.6" height="4.1" fill="#fff"/>
<rect x="563.5" y="355.3" width="4.0" height="5.4" fill="#fff"/>
<rect x="564.7" y="362.0" width="1.6" height="4.1" fill="#fff"/>
<rect x="569.4" y="355.3" width="4.0" height="5.4" fill="#fff"/>
<rect x="570.6" y="362.0" width="1.6" height="4.1" fill="#fff"/>
<rect x="575.4" y="355.3" width="4.0" height="5.4" fill="#fff"/>
<rect x="576.6" y="362.0" width="1.6" height="4.1" fill="#fff"/>
<rect x="581.3" y="355.3" width="4.0" height="5.4" fill="#fff"/>
<rect x="582.5" y="362.0" width="1.6" height="4.1" fill="#fff"/>
<rect x="587.2" y="355.3" width="4.0" height="5.4" fill="#fff"/>
<rect x="588.4" y="362.0" width="1.6" height="4.1" fill="#fff"/>
<rect x="593.1" y="355.3" width="4.0" height="5.4" fill="#fff"/>
<rect x="594.3" y="362.0" width="1.6" height="4.1" fill="#fff"/>
<rect x="599.0" y="355.3" width="4.0" height="5.4" fill="#fff"/>
<rect x="600.2" y="362.0" width="1.6" height="4.1" fill="#fff"/>
<rect x="605.0" y="355.3" width="4.0" height="5.4" fill="#fff"/>
<rect x="606.2" y="362.0" width="1.6" height="4.1" fill="#fff"/>
<rect x="610.9" y="355.3" width="4.0" height="5.4" fill="#fff"/>
<rect x="612.1" y="362.0" width="1.6" height="4.1" fill="#fff"/>
<rect x="616.8" y="355.3" width="4.0" height="5.4" fill="#fff"/>
<rect x="618.0" y="362.0" width="1.6" height="4.1" fill="#fff"/>
<rect x="622.7" y="355.3" width="4.0" height="5.4" fill="#fff"/>
<rect x="623.9" y="362.0" width="1.6" height="4.1" fill="#fff"/>
<rect x="628.6" y="355.3" width="4.0" height="5.4" fill="#fff"/>
<rect x="629.8" y="362.0" width="1.6" height="4.1" fill="#fff"/>
<rect x="634.6" y="355.3" width="4.0" height="5.4" fill="#fff"/>
<rect x="635.8" y="362.0" width="1.6" height="4.1" fill="#fff"/>
<rect x="448" y="351.5" width="4" height="16.5" fill="#000"/>
<polyline points="452,354.0 461.5,354.0 461.5,362.5 458.5,362.5 458.5,367.5 452,367.5" fill="#fff" stroke="#000" stroke-width="1"/>
<polyline points="452,364.0 455,364.0 455,360.5 458.5,360.5 458.5,362.5" fill="none" stroke="#000" stroke-width="1"/>
<rect x="441" y="354.5" width="7.5" height="1.0" fill="#000"/>
<rect x="441" y="361.5" width="7.5" height="1.0" fill="#000"/>
<rect x="654.5" y="351.5" width="4.0" height="16.5" fill="#000"/>
<polyline points="654.5,354.0 645.0,354.0 645.0,362.5 648.0,362.5 648.0,367.5 654.5,367.5" fill="#fff" stroke="#000" stroke-width="1"/>
<polyline points="654.5,364.0 651.5,364.0 651.5,360.5 648.0,360.5 648.0,362.5" fill="none" stroke="#000" stroke-width="1"/>
<rect x="658.0" y="354.5" width="7.5" height="1.0" fill="#000"/>
<rect x="658.0" y="361.5" width="7.5" height="1.0" fill="#000"/>
<rect x="466" y="377.8" width="175" height="13.0" fill="#000"/>
<rect x="468.8" y="379.6" width="4.0" height="5.4" fill="#fff"/>
<rect x="470.0" y="386.3" width="1.6" height="4.1" fill="#fff"/>
<rect x="474.7" y="379.6" width="4.0" height="5.4" fill="#fff"/>
<rect x="475.9" y="386.3" width="1.6" height="4.1" fill="#fff"/>
<rect x="480.6" y="379.6" width="4.0" height="5.4" fill="#fff"/>
<rect x="481.8" y="386.3" width="1.6" height="4.1" fill="#fff"/>
<rect x="486.6" y="379.6" width="4.0" height="5.4" fill="#fff"/>
<rect x="487.8" y="386.3" width="1.6" height="4.1" fill="#fff"/>
<rect x="492.5" y="379.6" width="4.0" height="5.4" fill="#fff"/>
<rect x="493.7" y="386.3" width="1.6" height="4.1" fill="#fff"/>
<rect x="498.4" y="379.6" width="4.0" height="5.4" fill="#fff"/>
<rect x="499.6" y="386.3" width="1.6" height="4.1" fill="#fff"/>
<rect x="504.3" y="379.6" width="4.0" height="5.4" fill="#fff"/>
<rect x="505.5" y="386.3" width="1.6" height="4.1" fill="#fff"/>
<rect x="510.2" y="379.6" width="4.0" height="5.4" fill="#fff"/>
<rect x="511.4" y="386.3" width="1.6" height="4.1" fill="#fff"/>
<rect x="516.2" y="379.6" width="4.0" height="5.4" fill="#fff"/>
<rect x="517.4" y="386.3" width="1.6" height="4.1" fill="#fff"/>
<rect x="522.1" y="379.6" width="4.0" height="5.4" fill="#fff"/>
<rect x="523.3" y="386.3" width="1.6" height="4.1" fill="#fff"/>
<rect x="528.0" y="379.6" width="4.0" height="5.4" fill="#fff"/>
<rect x="529.2" y="386.3" width="1.6" height="4.1" fill="#fff"/>
<rect x="533.9" y="379.6" width="4.0" height="5.4" fill="#fff"/>
<rect x="535.1" y="386.3" width="1.6" height="4.1" fill="#fff"/>
<rect x="539.8" y="379.6" width="4.0" height="5.4" fill="#fff"/>
<rect x="541.0" y="386.3" width="1.6" height="4.1" fill="#fff"/>
<rect x="545.8" y="379.6" width="4.0" height="5.4" fill="#fff"/>
<rect x="547.0" y="386.3" width="1.6" height="4.1" fill="#fff"/>
<rect x="551.7" y="379.6" width="4.0" height="5.4" fill="#fff"/>
<rect x="552.9" y="386.3" width="1.6" height="4.1" fill="#fff"/>
<rect x="557.6" y="379.6" width="4.0" height="5.4" fill="#fff"/>
<rect x="558.8" y="386.3" width="1.6" height="4.1" fill="#fff"/>
<rect x="563.5" y="379.6" width="4.0" height="5.4" fill="#fff"/>
<rect x="564.7" y="386.3" width="1.6" height="4.1" fill="#fff"/>
<rect x="569.4" y="379.6" width="4.0" height="5.4" fill="#fff"/>
<rect x="570.6" y="386.3" width="1.6" height="4.1" fill="#fff"/>
<rect x="575.4" y="379.6" width="4.0" height="5.4" fill="#fff"/>
<rect x="576.6" y="386.3" width="1.6" height="4.1" fill="#fff"/>
<rect x="581.3" y="379.6" width="4.0" height="5.4" fill="#fff"/>
<rect x="582.5" y="386.3" width="1.6" height="4.1" fill="#fff"/>
<rect x="587.2" y="379.6" width="4.0" height="5.4" fill="#fff"/>
<rect x="588.4" y="386.3" width="1.6" height="4.1" fill="#fff"/>
<rect x="593.1" y="379.6" width="4.0" height="5.4" fill="#fff"/>
<rect x="594.3" y="386.3" width="1.6" height="4.1" fill="#fff"/>
<rect x="599.0" y="379.6" width="4.0" height="5.4" fill="#fff"/>
<rect x="600.2" y="386.3" width="1.6" height="4.1" fill="#fff"/>
<rect x="605.0" y="379.6" width="4.0" height="5.4" fill="#fff"/>
<rect x="606.2" y="386.3" width="1.6" height="4.1" fill="#fff"/>
<rect x="610.9" y="379.6" width="4.0" height="5.4" fill="#fff"/>
<rect x="612.1" y="386.3" width="1.6" height="4.1" fill="#fff"/>
<rect x="616.8" y="379.6" width="4.0" height="5.4" fill="#fff"/>
<rect x="618.0" y="386.3" width="1.6" height="4.1" fill="#fff"/>
<rect x="622.7" y="379.6" width="4.0" height="5.4" fill="#fff"/>
<rect x="623.9" y="386.3" width="1.6" height="4.1" fill="#fff"/>
<rect x="628.6" y="379.6" width="4.0" height="5.4" fill="#fff"/>
<rect x="629.8" y="386.3" width="1.6" height="4.1" fill="#fff"/>
<rect x="634.6" y="379.6" width="4.0" height="5.4" fill="#fff"/>
<rect x="635.8" y="386.3" width="1.6" height="4.1" fill="#fff"/>
<rect x="448" y="375.8" width="4" height="16.5" fill="#000"/>
<polyline points="452,378.3 461.5,378.3 461.5,386.8 458.5,386.8 458.5,391.8 452,391.8" fill="#fff" stroke="#000" stroke-width="1"/>
<polyline points="452,388.3 455,388.3 455,384.8 458.5,384.8 458.5,386.8" fill="none" stroke="#000" stroke-width="1"/>
<rect x="441" y="378.8" width="7.5" height="1.0" fill="#000"/>
<rect x="441" y="385.8" width="7.5" height="1.0" fill="#000"/>
<rect x="654.5" y="375.8" width="4.0" height="16.5" fill="#000"/>
<polyline points="654.5,378.3 645.0,378.3 645.0,386.8 648.0,386.8 648.0,391.8 654.5,391.8" fill="#fff" stroke="#000" stroke-width="1"/>
<polyline points="654.5,388.3 651.5,388.3 651.5,384.8 648.0,384.8 648.0,386.8" fill="none" stroke="#000" stroke-width="1"/>
<rect x="658.0" y="378.8" width="7.5" height="1.0" fill="#000"/>
<rect x="658.0" y="385.8" width="7.5" height="1.0" fill="#000"/>
<rect x="448.5" y="369.8" width="14.0" height="6" fill="#fff" stroke="#000" stroke-width="1"/>
<rect x="466.5" y="369.8" width="30.0" height="6" fill="#fff" stroke="#000" stroke-width="1"/>
<rect x="501.5" y="369.8" width="38.5" height="6" fill="#fff" stroke="#000" stroke-width="1"/>
<rect x="566" y="369.8" width="39" height="6" fill="#fff" stroke="#000" stroke-width="1"/>
<rect x="612.5" y="369.8" width="30.5" height="6" fill="#fff" stroke="#000" stroke-width="1"/>
<rect x="645.5" y="369.8" width="15.0" height="6" fill="#fff" stroke="#000" stroke-width="1"/>
<rect x="524.5" y="363.5" width="60.5" height="18" rx="3" ry="3" fill="#000"/>
<rect x="527" y="364.9" width="55.3" height="15" rx="1" ry="1" fill="#fff"/>
<text transform="translate(528.14,375.7) scale(0.75,1)" font-size="13.95" font-weight="normal" letter-spacing="2.88" fill="#000" stroke="#000" stroke-width="0.12">BANK 3</text>
<rect x="441" y="393.2" width="225" height="1.0" fill="#000"/>
<rect x="466" y="395.5" width="175" height="13.0" fill="#000"/>
<rect x="468.8" y="397.3" width="4.0" height="5.4" fill="#fff"/>
<rect x="470.0" y="404.0" width="1.6" height="4.1" fill="#fff"/>
<rect x="474.7" y="397.3" width="4.0" height="5.4" fill="#fff"/>
<rect x="475.9" y="404.0" width="1.6" height="4.1" fill="#fff"/>
<rect x="480.6" y="397.3" width="4.0" height="5.4" fill="#fff"/>
<rect x="481.8" y="404.0" width="1.6" height="4.1" fill="#fff"/>
<rect x="486.6" y="397.3" width="4.0" height="5.4" fill="#fff"/>
<rect x="487.8" y="404.0" width="1.6" height="4.1" fill="#fff"/>
<rect x="492.5" y="397.3" width="4.0" height="5.4" fill="#fff"/>
<rect x="493.7" y="404.0" width="1.6" height="4.1" fill="#fff"/>
<rect x="498.4" y="397.3" width="4.0" height="5.4" fill="#fff"/>
<rect x="499.6" y="404.0" width="1.6" height="4.1" fill="#fff"/>
<rect x="504.3" y="397.3" width="4.0" height="5.4" fill="#fff"/>
<rect x="505.5" y="404.0" width="1.6" height="4.1" fill="#fff"/>
<rect x="510.2" y="397.3" width="4.0" height="5.4" fill="#fff"/>
<rect x="511.4" y="404.0" width="1.6" height="4.1" fill="#fff"/>
<rect x="516.2" y="397.3" width="4.0" height="5.4" fill="#fff"/>
<rect x="517.4" y="404.0" width="1.6" height="4.1" fill="#fff"/>
<rect x="522.1" y="397.3" width="4.0" height="5.4" fill="#fff"/>
<rect x="523.3" y="404.0" width="1.6" height="4.1" fill="#fff"/>
<rect x="528.0" y="397.3" width="4.0" height="5.4" fill="#fff"/>
<rect x="529.2" y="404.0" width="1.6" height="4.1" fill="#fff"/>
<rect x="533.9" y="397.3" width="4.0" height="5.4" fill="#fff"/>
<rect x="535.1" y="404.0" width="1.6" height="4.1" fill="#fff"/>
<rect x="539.8" y="397.3" width="4.0" height="5.4" fill="#fff"/>
<rect x="541.0" y="404.0" width="1.6" height="4.1" fill="#fff"/>
<rect x="545.8" y="397.3" width="4.0" height="5.4" fill="#fff"/>
<rect x="547.0" y="404.0" width="1.6" height="4.1" fill="#fff"/>
<rect x="551.7" y="397.3" width="4.0" height="5.4" fill="#fff"/>
<rect x="552.9" y="404.0" width="1.6" height="4.1" fill="#fff"/>
<rect x="557.6" y="397.3" width="4.0" height="5.4" fill="#fff"/>
<rect x="558.8" y="404.0" width="1.6" height="4.1" fill="#fff"/>
<rect x="563.5" y="397.3" width="4.0" height="5.4" fill="#fff"/>
<rect x="564.7" y="404.0" width="1.6" height="4.1" fill="#fff"/>
<rect x="569.4" y="397.3" width="4.0" height="5.4" fill="#fff"/>
<rect x="570.6" y="404.0" width="1.6" height="4.1" fill="#fff"/>
<rect x="575.4" y="397.3" width="4.0" height="5.4" fill="#fff"/>
<rect x="576.6" y="404.0" width="1.6" height="4.1" fill="#fff"/>
<rect x="581.3" y="397.3" width="4.0" height="5.4" fill="#fff"/>
<rect x="582.5" y="404.0" width="1.6" height="4.1" fill="#fff"/>
<rect x="587.2" y="397.3" width="4.0" height="5.4" fill="#fff"/>
<rect x="588.4" y="404.0" width="1.6" height="4.1" fill="#fff"/>
<rect x="593.1" y="397.3" width="4.0" height="5.4" fill="#fff"/>
<rect x="594.3" y="404.0" width="1.6" height="4.1" fill="#fff"/>
<rect x="599.0" y="397.3" width="4.0" height="5.4" fill="#fff"/>
<rect x="600.2" y="404.0" width="1.6" height="4.1" fill="#fff"/>
<rect x="605.0" y="397.3" width="4.0" height="5.4" fill="#fff"/>
<rect x="606.2" y="404.0" width="1.6" height="4.1" fill="#fff"/>
<rect x="610.9" y="397.3" width="4.0" height="5.4" fill="#fff"/>
<rect x="612.1" y="404.0" width="1.6" height="4.1" fill="#fff"/>
<rect x="616.8" y="397.3" width="4.0" height="5.4" fill="#fff"/>
<rect x="618.0" y="404.0" width="1.6" height="4.1" fill="#fff"/>
<rect x="622.7" y="397.3" width="4.0" height="5.4" fill="#fff"/>
<rect x="623.9" y="404.0" width="1.6" height="4.1" fill="#fff"/>
<rect x="628.6" y="397.3" width="4.0" height="5.4" fill="#fff"/>
<rect x="629.8" y="404.0" width="1.6" height="4.1" fill="#fff"/>
<rect x="634.6" y="397.3" width="4.0" height="5.4" fill="#fff"/>
<rect x="635.8" y="404.0" width="1.6" height="4.1" fill="#fff"/>
<rect x="448" y="393.5" width="4" height="16.5" fill="#000"/>
<polyline points="452,396.0 461.5,396.0 461.5,404.5 458.5,404.5 458.5,409.5 452,409.5" fill="#fff" stroke="#000" stroke-width="1"/>
<polyline points="452,406.0 455,406.0 455,402.5 458.5,402.5 458.5,404.5" fill="none" stroke="#000" stroke-width="1"/>
<rect x="441" y="396.5" width="7.5" height="1.0" fill="#000"/>
<rect x="441" y="403.5" width="7.5" height="1.0" fill="#000"/>
<rect x="654.5" y="393.5" width="4.0" height="16.5" fill="#000"/>
<polyline points="654.5,396.0 645.0,396.0 645.0,404.5 648.0,404.5 648.0,409.5 654.5,409.5" fill="#fff" stroke="#000" stroke-width="1"/>
<polyline points="654.5,406.0 651.5,406.0 651.5,402.5 648.0,402.5 648.0,404.5" fill="none" stroke="#000" stroke-width="1"/>
<rect x="658.0" y="396.5" width="7.5" height="1.0" fill="#000"/>
<rect x="658.0" y="403.5" width="7.5" height="1.0" fill="#000"/>
<rect x="466" y="419.8" width="175" height="13.0" fill="#000"/>
<rect x="468.8" y="421.6" width="4.0" height="5.4" fill="#fff"/>
<rect x="470.0" y="428.3" width="1.6" height="4.1" fill="#fff"/>
<rect x="474.7" y="421.6" width="4.0" height="5.4" fill="#fff"/>
<rect x="475.9" y="428.3" width="1.6" height="4.1" fill="#fff"/>
<rect x="480.6" y="421.6" width="4.0" height="5.4" fill="#fff"/>
<rect x="481.8" y="428.3" width="1.6" height="4.1" fill="#fff"/>
<rect x="486.6" y="421.6" width="4.0" height="5.4" fill="#fff"/>
<rect x="487.8" y="428.3" width="1.6" height="4.1" fill="#fff"/>
<rect x="492.5" y="421.6" width="4.0" height="5.4" fill="#fff"/>
<rect x="493.7" y="428.3" width="1.6" height="4.1" fill="#fff"/>
<rect x="498.4" y="421.6" width="4.0" height="5.4" fill="#fff"/>
<rect x="499.6" y="428.3" width="1.6" height="4.1" fill="#fff"/>
<rect x="504.3" y="421.6" width="4.0" height="5.4" fill="#fff"/>
<rect x="505.5" y="428.3" width="1.6" height="4.1" fill="#fff"/>
<rect x="510.2" y="421.6" width="4.0" height="5.4" fill="#fff"/>
<rect x="511.4" y="428.3" width="1.6" height="4.1" fill="#fff"/>
<rect x="516.2" y="421.6" width="4.0" height="5.4" fill="#fff"/>
<rect x="517.4" y="428.3" width="1.6" height="4.1" fill="#fff"/>
<rect x="522.1" y="421.6" width="4.0" height="5.4" fill="#fff"/>
<rect x="523.3" y="428.3" width="1.6" height="4.1" fill="#fff"/>
<rect x="528.0" y="421.6" width="4.0" height="5.4" fill="#fff"/>
<rect x="529.2" y="428.3" width="1.6" height="4.1" fill="#fff"/>
<rect x="533.9" y="421.6" width="4.0" height="5.4" fill="#fff"/>
<rect x="535.1" y="428.3" width="1.6" height="4.1" fill="#fff"/>
<rect x="539.8" y="421.6" width="4.0" height="5.4" fill="#fff"/>
<rect x="541.0" y="428.3" width="1.6" height="4.1" fill="#fff"/>
<rect x="545.8" y="421.6" width="4.0" height="5.4" fill="#fff"/>
<rect x="547.0" y="428.3" width="1.6" height="4.1" fill="#fff"/>
<rect x="551.7" y="421.6" width="4.0" height="5.4" fill="#fff"/>
<rect x="552.9" y="428.3" width="1.6" height="4.1" fill="#fff"/>
<rect x="557.6" y="421.6" width="4.0" height="5.4" fill="#fff"/>
<rect x="558.8" y="428.3" width="1.6" height="4.1" fill="#fff"/>
<rect x="563.5" y="421.6" width="4.0" height="5.4" fill="#fff"/>
<rect x="564.7" y="428.3" width="1.6" height="4.1" fill="#fff"/>
<rect x="569.4" y="421.6" width="4.0" height="5.4" fill="#fff"/>
<rect x="570.6" y="428.3" width="1.6" height="4.1" fill="#fff"/>
<rect x="575.4" y="421.6" width="4.0" height="5.4" fill="#fff"/>
<rect x="576.6" y="428.3" width="1.6" height="4.1" fill="#fff"/>
<rect x="581.3" y="421.6" width="4.0" height="5.4" fill="#fff"/>
<rect x="582.5" y="428.3" width="1.6" height="4.1" fill="#fff"/>
<rect x="587.2" y="421.6" width="4.0" height="5.4" fill="#fff"/>
<rect x="588.4" y="428.3" width="1.6" height="4.1" fill="#fff"/>
<rect x="593.1" y="421.6" width="4.0" height="5.4" fill="#fff"/>
<rect x="594.3" y="428.3" width="1.6" height="4.1" fill="#fff"/>
<rect x="599.0" y="421.6" width="4.0" height="5.4" fill="#fff"/>
<rect x="600.2" y="428.3" width="1.6" height="4.1" fill="#fff"/>
<rect x="605.0" y="421.6" width="4.0" height="5.4" fill="#fff"/>
<rect x="606.2" y="428.3" width="1.6" height="4.1" fill="#fff"/>
<rect x="610.9" y="421.6" width="4.0" height="5.4" fill="#fff"/>
<rect x="612.1" y="428.3" width="1.6" height="4.1" fill="#fff"/>
<rect x="616.8" y="421.6" width="4.0" height="5.4" fill="#fff"/>
<rect x="618.0" y="428.3" width="1.6" height="4.1" fill="#fff"/>
<rect x="622.7" y="421.6" width="4.0" height="5.4" fill="#fff"/>
<rect x="623.9" y="428.3" width="1.6" height="4.1" fill="#fff"/>
<rect x="628.6" y="421.6" width="4.0" height="5.4" fill="#fff"/>
<rect x="629.8" y="428.3" width="1.6" height="4.1" fill="#fff"/>
<rect x="634.6" y="421.6" width="4.0" height="5.4" fill="#fff"/>
<rect x="635.8" y="428.3" width="1.6" height="4.1" fill="#fff"/>
<rect x="448" y="417.8" width="4" height="16.5" fill="#000"/>
<polyline points="452,420.3 461.5,420.3 461.5,428.8 458.5,428.8 458.5,433.8 452,433.8" fill="#fff" stroke="#000" stroke-width="1"/>
<polyline points="452,430.3 455,430.3 455,426.8 458.5,426.8 458.5,428.8" fill="none" stroke="#000" stroke-width="1"/>
<rect x="441" y="420.8" width="7.5" height="1.0" fill="#000"/>
<rect x="441" y="427.8" width="7.5" height="1.0" fill="#000"/>
<rect x="654.5" y="417.8" width="4.0" height="16.5" fill="#000"/>
<polyline points="654.5,420.3 645.0,420.3 645.0,428.8 648.0,428.8 648.0,433.8 654.5,433.8" fill="#fff" stroke="#000" stroke-width="1"/>
<polyline points="654.5,430.3 651.5,430.3 651.5,426.8 648.0,426.8 648.0,428.8" fill="none" stroke="#000" stroke-width="1"/>
<rect x="658.0" y="420.8" width="7.5" height="1.0" fill="#000"/>
<rect x="658.0" y="427.8" width="7.5" height="1.0" fill="#000"/>
<rect x="448.5" y="411.8" width="14.0" height="6" fill="#fff" stroke="#000" stroke-width="1"/>
<rect x="466.5" y="411.8" width="30.0" height="6" fill="#fff" stroke="#000" stroke-width="1"/>
<rect x="501.5" y="411.8" width="38.5" height="6" fill="#fff" stroke="#000" stroke-width="1"/>
<rect x="566" y="411.8" width="39" height="6" fill="#fff" stroke="#000" stroke-width="1"/>
<rect x="612.5" y="411.8" width="30.5" height="6" fill="#fff" stroke="#000" stroke-width="1"/>
<rect x="645.5" y="411.8" width="15.0" height="6" fill="#fff" stroke="#000" stroke-width="1"/>
<rect x="524.5" y="405.5" width="60.5" height="18" rx="3" ry="3" fill="#000"/>
<rect x="527" y="406.9" width="55.3" height="15" rx="1" ry="1" fill="#fff"/>
<text transform="translate(528.14,417.7) scale(0.75,1)" font-size="13.95" font-weight="normal" letter-spacing="2.9" fill="#000" stroke="#000" stroke-width="0.12">BANK 2</text>
<rect x="441" y="435.2" width="225" height="1.0" fill="#000"/>
<rect x="466" y="436.5" width="175" height="13.0" fill="#000"/>
<rect x="468.8" y="438.3" width="4.0" height="5.4" fill="#fff"/>
<rect x="470.0" y="445.0" width="1.6" height="4.1" fill="#fff"/>
<rect x="474.7" y="438.3" width="4.0" height="5.4" fill="#fff"/>
<rect x="475.9" y="445.0" width="1.6" height="4.1" fill="#fff"/>
<rect x="480.6" y="438.3" width="4.0" height="5.4" fill="#fff"/>
<rect x="481.8" y="445.0" width="1.6" height="4.1" fill="#fff"/>
<rect x="486.6" y="438.3" width="4.0" height="5.4" fill="#fff"/>
<rect x="487.8" y="445.0" width="1.6" height="4.1" fill="#fff"/>
<rect x="492.5" y="438.3" width="4.0" height="5.4" fill="#fff"/>
<rect x="493.7" y="445.0" width="1.6" height="4.1" fill="#fff"/>
<rect x="498.4" y="438.3" width="4.0" height="5.4" fill="#fff"/>
<rect x="499.6" y="445.0" width="1.6" height="4.1" fill="#fff"/>
<rect x="504.3" y="438.3" width="4.0" height="5.4" fill="#fff"/>
<rect x="505.5" y="445.0" width="1.6" height="4.1" fill="#fff"/>
<rect x="510.2" y="438.3" width="4.0" height="5.4" fill="#fff"/>
<rect x="511.4" y="445.0" width="1.6" height="4.1" fill="#fff"/>
<rect x="516.2" y="438.3" width="4.0" height="5.4" fill="#fff"/>
<rect x="517.4" y="445.0" width="1.6" height="4.1" fill="#fff"/>
<rect x="522.1" y="438.3" width="4.0" height="5.4" fill="#fff"/>
<rect x="523.3" y="445.0" width="1.6" height="4.1" fill="#fff"/>
<rect x="528.0" y="438.3" width="4.0" height="5.4" fill="#fff"/>
<rect x="529.2" y="445.0" width="1.6" height="4.1" fill="#fff"/>
<rect x="533.9" y="438.3" width="4.0" height="5.4" fill="#fff"/>
<rect x="535.1" y="445.0" width="1.6" height="4.1" fill="#fff"/>
<rect x="539.8" y="438.3" width="4.0" height="5.4" fill="#fff"/>
<rect x="541.0" y="445.0" width="1.6" height="4.1" fill="#fff"/>
<rect x="545.8" y="438.3" width="4.0" height="5.4" fill="#fff"/>
<rect x="547.0" y="445.0" width="1.6" height="4.1" fill="#fff"/>
<rect x="551.7" y="438.3" width="4.0" height="5.4" fill="#fff"/>
<rect x="552.9" y="445.0" width="1.6" height="4.1" fill="#fff"/>
<rect x="557.6" y="438.3" width="4.0" height="5.4" fill="#fff"/>
<rect x="558.8" y="445.0" width="1.6" height="4.1" fill="#fff"/>
<rect x="563.5" y="438.3" width="4.0" height="5.4" fill="#fff"/>
<rect x="564.7" y="445.0" width="1.6" height="4.1" fill="#fff"/>
<rect x="569.4" y="438.3" width="4.0" height="5.4" fill="#fff"/>
<rect x="570.6" y="445.0" width="1.6" height="4.1" fill="#fff"/>
<rect x="575.4" y="438.3" width="4.0" height="5.4" fill="#fff"/>
<rect x="576.6" y="445.0" width="1.6" height="4.1" fill="#fff"/>
<rect x="581.3" y="438.3" width="4.0" height="5.4" fill="#fff"/>
<rect x="582.5" y="445.0" width="1.6" height="4.1" fill="#fff"/>
<rect x="587.2" y="438.3" width="4.0" height="5.4" fill="#fff"/>
<rect x="588.4" y="445.0" width="1.6" height="4.1" fill="#fff"/>
<rect x="593.1" y="438.3" width="4.0" height="5.4" fill="#fff"/>
<rect x="594.3" y="445.0" width="1.6" height="4.1" fill="#fff"/>
<rect x="599.0" y="438.3" width="4.0" height="5.4" fill="#fff"/>
<rect x="600.2" y="445.0" width="1.6" height="4.1" fill="#fff"/>
<rect x="605.0" y="438.3" width="4.0" height="5.4" fill="#fff"/>
<rect x="606.2" y="445.0" width="1.6" height="4.1" fill="#fff"/>
<rect x="610.9" y="438.3" width="4.0" height="5.4" fill="#fff"/>
<rect x="612.1" y="445.0" width="1.6" height="4.1" fill="#fff"/>
<rect x="616.8" y="438.3" width="4.0" height="5.4" fill="#fff"/>
<rect x="618.0" y="445.0" width="1.6" height="4.1" fill="#fff"/>
<rect x="622.7" y="438.3" width="4.0" height="5.4" fill="#fff"/>
<rect x="623.9" y="445.0" width="1.6" height="4.1" fill="#fff"/>
<rect x="628.6" y="438.3" width="4.0" height="5.4" fill="#fff"/>
<rect x="629.8" y="445.0" width="1.6" height="4.1" fill="#fff"/>
<rect x="634.6" y="438.3" width="4.0" height="5.4" fill="#fff"/>
<rect x="635.8" y="445.0" width="1.6" height="4.1" fill="#fff"/>
<rect x="448" y="434.5" width="4" height="16.5" fill="#000"/>
<polyline points="452,437.0 461.5,437.0 461.5,445.5 458.5,445.5 458.5,450.5 452,450.5" fill="#fff" stroke="#000" stroke-width="1"/>
<polyline points="452,447.0 455,447.0 455,443.5 458.5,443.5 458.5,445.5" fill="none" stroke="#000" stroke-width="1"/>
<rect x="441" y="437.5" width="7.5" height="1.0" fill="#000"/>
<rect x="441" y="444.5" width="7.5" height="1.0" fill="#000"/>
<rect x="654.5" y="434.5" width="4.0" height="16.5" fill="#000"/>
<polyline points="654.5,437.0 645.0,437.0 645.0,445.5 648.0,445.5 648.0,450.5 654.5,450.5" fill="#fff" stroke="#000" stroke-width="1"/>
<polyline points="654.5,447.0 651.5,447.0 651.5,443.5 648.0,443.5 648.0,445.5" fill="none" stroke="#000" stroke-width="1"/>
<rect x="658.0" y="437.5" width="7.5" height="1.0" fill="#000"/>
<rect x="658.0" y="444.5" width="7.5" height="1.0" fill="#000"/>
<rect x="466" y="460.8" width="175" height="13.0" fill="#000"/>
<rect x="468.8" y="462.6" width="4.0" height="5.4" fill="#fff"/>
<rect x="470.0" y="469.3" width="1.6" height="4.1" fill="#fff"/>
<rect x="474.7" y="462.6" width="4.0" height="5.4" fill="#fff"/>
<rect x="475.9" y="469.3" width="1.6" height="4.1" fill="#fff"/>
<rect x="480.6" y="462.6" width="4.0" height="5.4" fill="#fff"/>
<rect x="481.8" y="469.3" width="1.6" height="4.1" fill="#fff"/>
<rect x="486.6" y="462.6" width="4.0" height="5.4" fill="#fff"/>
<rect x="487.8" y="469.3" width="1.6" height="4.1" fill="#fff"/>
<rect x="492.5" y="462.6" width="4.0" height="5.4" fill="#fff"/>
<rect x="493.7" y="469.3" width="1.6" height="4.1" fill="#fff"/>
<rect x="498.4" y="462.6" width="4.0" height="5.4" fill="#fff"/>
<rect x="499.6" y="469.3" width="1.6" height="4.1" fill="#fff"/>
<rect x="504.3" y="462.6" width="4.0" height="5.4" fill="#fff"/>
<rect x="505.5" y="469.3" width="1.6" height="4.1" fill="#fff"/>
<rect x="510.2" y="462.6" width="4.0" height="5.4" fill="#fff"/>
<rect x="511.4" y="469.3" width="1.6" height="4.1" fill="#fff"/>
<rect x="516.2" y="462.6" width="4.0" height="5.4" fill="#fff"/>
<rect x="517.4" y="469.3" width="1.6" height="4.1" fill="#fff"/>
<rect x="522.1" y="462.6" width="4.0" height="5.4" fill="#fff"/>
<rect x="523.3" y="469.3" width="1.6" height="4.1" fill="#fff"/>
<rect x="528.0" y="462.6" width="4.0" height="5.4" fill="#fff"/>
<rect x="529.2" y="469.3" width="1.6" height="4.1" fill="#fff"/>
<rect x="533.9" y="462.6" width="4.0" height="5.4" fill="#fff"/>
<rect x="535.1" y="469.3" width="1.6" height="4.1" fill="#fff"/>
<rect x="539.8" y="462.6" width="4.0" height="5.4" fill="#fff"/>
<rect x="541.0" y="469.3" width="1.6" height="4.1" fill="#fff"/>
<rect x="545.8" y="462.6" width="4.0" height="5.4" fill="#fff"/>
<rect x="547.0" y="469.3" width="1.6" height="4.1" fill="#fff"/>
<rect x="551.7" y="462.6" width="4.0" height="5.4" fill="#fff"/>
<rect x="552.9" y="469.3" width="1.6" height="4.1" fill="#fff"/>
<rect x="557.6" y="462.6" width="4.0" height="5.4" fill="#fff"/>
<rect x="558.8" y="469.3" width="1.6" height="4.1" fill="#fff"/>
<rect x="563.5" y="462.6" width="4.0" height="5.4" fill="#fff"/>
<rect x="564.7" y="469.3" width="1.6" height="4.1" fill="#fff"/>
<rect x="569.4" y="462.6" width="4.0" height="5.4" fill="#fff"/>
<rect x="570.6" y="469.3" width="1.6" height="4.1" fill="#fff"/>
<rect x="575.4" y="462.6" width="4.0" height="5.4" fill="#fff"/>
<rect x="576.6" y="469.3" width="1.6" height="4.1" fill="#fff"/>
<rect x="581.3" y="462.6" width="4.0" height="5.4" fill="#fff"/>
<rect x="582.5" y="469.3" width="1.6" height="4.1" fill="#fff"/>
<rect x="587.2" y="462.6" width="4.0" height="5.4" fill="#fff"/>
<rect x="588.4" y="469.3" width="1.6" height="4.1" fill="#fff"/>
<rect x="593.1" y="462.6" width="4.0" height="5.4" fill="#fff"/>
<rect x="594.3" y="469.3" width="1.6" height="4.1" fill="#fff"/>
<rect x="599.0" y="462.6" width="4.0" height="5.4" fill="#fff"/>
<rect x="600.2" y="469.3" width="1.6" height="4.1" fill="#fff"/>
<rect x="605.0" y="462.6" width="4.0" height="5.4" fill="#fff"/>
<rect x="606.2" y="469.3" width="1.6" height="4.1" fill="#fff"/>
<rect x="610.9" y="462.6" width="4.0" height="5.4" fill="#fff"/>
<rect x="612.1" y="469.3" width="1.6" height="4.1" fill="#fff"/>
<rect x="616.8" y="462.6" width="4.0" height="5.4" fill="#fff"/>
<rect x="618.0" y="469.3" width="1.6" height="4.1" fill="#fff"/>
<rect x="622.7" y="462.6" width="4.0" height="5.4" fill="#fff"/>
<rect x="623.9" y="469.3" width="1.6" height="4.1" fill="#fff"/>
<rect x="628.6" y="462.6" width="4.0" height="5.4" fill="#fff"/>
<rect x="629.8" y="469.3" width="1.6" height="4.1" fill="#fff"/>
<rect x="634.6" y="462.6" width="4.0" height="5.4" fill="#fff"/>
<rect x="635.8" y="469.3" width="1.6" height="4.1" fill="#fff"/>
<rect x="448" y="458.8" width="4" height="16.5" fill="#000"/>
<polyline points="452,461.3 461.5,461.3 461.5,469.8 458.5,469.8 458.5,474.8 452,474.8" fill="#fff" stroke="#000" stroke-width="1"/>
<polyline points="452,471.3 455,471.3 455,467.8 458.5,467.8 458.5,469.8" fill="none" stroke="#000" stroke-width="1"/>
<rect x="441" y="461.8" width="7.5" height="1.0" fill="#000"/>
<rect x="441" y="468.8" width="7.5" height="1.0" fill="#000"/>
<rect x="654.5" y="458.8" width="4.0" height="16.5" fill="#000"/>
<polyline points="654.5,461.3 645.0,461.3 645.0,469.8 648.0,469.8 648.0,474.8 654.5,474.8" fill="#fff" stroke="#000" stroke-width="1"/>
<polyline points="654.5,471.3 651.5,471.3 651.5,467.8 648.0,467.8 648.0,469.8" fill="none" stroke="#000" stroke-width="1"/>
<rect x="658.0" y="461.8" width="7.5" height="1.0" fill="#000"/>
<rect x="658.0" y="468.8" width="7.5" height="1.0" fill="#000"/>
<rect x="448.5" y="452.8" width="14.0" height="6" fill="#fff" stroke="#000" stroke-width="1"/>
<rect x="466.5" y="452.8" width="30.0" height="6" fill="#fff" stroke="#000" stroke-width="1"/>
<rect x="501.5" y="452.8" width="38.5" height="6" fill="#fff" stroke="#000" stroke-width="1"/>
<rect x="566" y="452.8" width="39" height="6" fill="#fff" stroke="#000" stroke-width="1"/>
<rect x="612.5" y="452.8" width="30.5" height="6" fill="#fff" stroke="#000" stroke-width="1"/>
<rect x="645.5" y="452.8" width="15.0" height="6" fill="#fff" stroke="#000" stroke-width="1"/>
<rect x="524.5" y="446.5" width="60.5" height="18" rx="3" ry="3" fill="#000"/>
<rect x="527" y="447.9" width="55.3" height="15" rx="1" ry="1" fill="#fff"/>
<text transform="translate(528.14,458.7) scale(0.75,1)" font-size="13.95" font-weight="normal" letter-spacing="2.89" fill="#000" stroke="#000" stroke-width="0.12">BANK 1</text>
<rect x="441" y="476.2" width="225" height="1.0" fill="#000"/>
<rect x="466" y="478.5" width="175" height="13.0" fill="#000"/>
<rect x="468.8" y="480.3" width="4.0" height="5.4" fill="#fff"/>
<rect x="470.0" y="487.0" width="1.6" height="4.1" fill="#fff"/>
<rect x="474.7" y="480.3" width="4.0" height="5.4" fill="#fff"/>
<rect x="475.9" y="487.0" width="1.6" height="4.1" fill="#fff"/>
<rect x="480.6" y="480.3" width="4.0" height="5.4" fill="#fff"/>
<rect x="481.8" y="487.0" width="1.6" height="4.1" fill="#fff"/>
<rect x="486.6" y="480.3" width="4.0" height="5.4" fill="#fff"/>
<rect x="487.8" y="487.0" width="1.6" height="4.1" fill="#fff"/>
<rect x="492.5" y="480.3" width="4.0" height="5.4" fill="#fff"/>
<rect x="493.7" y="487.0" width="1.6" height="4.1" fill="#fff"/>
<rect x="498.4" y="480.3" width="4.0" height="5.4" fill="#fff"/>
<rect x="499.6" y="487.0" width="1.6" height="4.1" fill="#fff"/>
<rect x="504.3" y="480.3" width="4.0" height="5.4" fill="#fff"/>
<rect x="505.5" y="487.0" width="1.6" height="4.1" fill="#fff"/>
<rect x="510.2" y="480.3" width="4.0" height="5.4" fill="#fff"/>
<rect x="511.4" y="487.0" width="1.6" height="4.1" fill="#fff"/>
<rect x="516.2" y="480.3" width="4.0" height="5.4" fill="#fff"/>
<rect x="517.4" y="487.0" width="1.6" height="4.1" fill="#fff"/>
<rect x="522.1" y="480.3" width="4.0" height="5.4" fill="#fff"/>
<rect x="523.3" y="487.0" width="1.6" height="4.1" fill="#fff"/>
<rect x="528.0" y="480.3" width="4.0" height="5.4" fill="#fff"/>
<rect x="529.2" y="487.0" width="1.6" height="4.1" fill="#fff"/>
<rect x="533.9" y="480.3" width="4.0" height="5.4" fill="#fff"/>
<rect x="535.1" y="487.0" width="1.6" height="4.1" fill="#fff"/>
<rect x="539.8" y="480.3" width="4.0" height="5.4" fill="#fff"/>
<rect x="541.0" y="487.0" width="1.6" height="4.1" fill="#fff"/>
<rect x="545.8" y="480.3" width="4.0" height="5.4" fill="#fff"/>
<rect x="547.0" y="487.0" width="1.6" height="4.1" fill="#fff"/>
<rect x="551.7" y="480.3" width="4.0" height="5.4" fill="#fff"/>
<rect x="552.9" y="487.0" width="1.6" height="4.1" fill="#fff"/>
<rect x="557.6" y="480.3" width="4.0" height="5.4" fill="#fff"/>
<rect x="558.8" y="487.0" width="1.6" height="4.1" fill="#fff"/>
<rect x="563.5" y="480.3" width="4.0" height="5.4" fill="#fff"/>
<rect x="564.7" y="487.0" width="1.6" height="4.1" fill="#fff"/>
<rect x="569.4" y="480.3" width="4.0" height="5.4" fill="#fff"/>
<rect x="570.6" y="487.0" width="1.6" height="4.1" fill="#fff"/>
<rect x="575.4" y="480.3" width="4.0" height="5.4" fill="#fff"/>
<rect x="576.6" y="487.0" width="1.6" height="4.1" fill="#fff"/>
<rect x="581.3" y="480.3" width="4.0" height="5.4" fill="#fff"/>
<rect x="582.5" y="487.0" width="1.6" height="4.1" fill="#fff"/>
<rect x="587.2" y="480.3" width="4.0" height="5.4" fill="#fff"/>
<rect x="588.4" y="487.0" width="1.6" height="4.1" fill="#fff"/>
<rect x="593.1" y="480.3" width="4.0" height="5.4" fill="#fff"/>
<rect x="594.3" y="487.0" width="1.6" height="4.1" fill="#fff"/>
<rect x="599.0" y="480.3" width="4.0" height="5.4" fill="#fff"/>
<rect x="600.2" y="487.0" width="1.6" height="4.1" fill="#fff"/>
<rect x="605.0" y="480.3" width="4.0" height="5.4" fill="#fff"/>
<rect x="606.2" y="487.0" width="1.6" height="4.1" fill="#fff"/>
<rect x="610.9" y="480.3" width="4.0" height="5.4" fill="#fff"/>
<rect x="612.1" y="487.0" width="1.6" height="4.1" fill="#fff"/>
<rect x="616.8" y="480.3" width="4.0" height="5.4" fill="#fff"/>
<rect x="618.0" y="487.0" width="1.6" height="4.1" fill="#fff"/>
<rect x="622.7" y="480.3" width="4.0" height="5.4" fill="#fff"/>
<rect x="623.9" y="487.0" width="1.6" height="4.1" fill="#fff"/>
<rect x="628.6" y="480.3" width="4.0" height="5.4" fill="#fff"/>
<rect x="629.8" y="487.0" width="1.6" height="4.1" fill="#fff"/>
<rect x="634.6" y="480.3" width="4.0" height="5.4" fill="#fff"/>
<rect x="635.8" y="487.0" width="1.6" height="4.1" fill="#fff"/>
<rect x="448" y="476.5" width="4" height="16.5" fill="#000"/>
<polyline points="452,479.0 461.5,479.0 461.5,487.5 458.5,487.5 458.5,492.5 452,492.5" fill="#fff" stroke="#000" stroke-width="1"/>
<polyline points="452,489.0 455,489.0 455,485.5 458.5,485.5 458.5,487.5" fill="none" stroke="#000" stroke-width="1"/>
<rect x="441" y="479.5" width="7.5" height="1.0" fill="#000"/>
<rect x="441" y="486.5" width="7.5" height="1.0" fill="#000"/>
<rect x="654.5" y="476.5" width="4.0" height="16.5" fill="#000"/>
<polyline points="654.5,479.0 645.0,479.0 645.0,487.5 648.0,487.5 648.0,492.5 654.5,492.5" fill="#fff" stroke="#000" stroke-width="1"/>
<polyline points="654.5,489.0 651.5,489.0 651.5,485.5 648.0,485.5 648.0,487.5" fill="none" stroke="#000" stroke-width="1"/>
<rect x="658.0" y="479.5" width="7.5" height="1.0" fill="#000"/>
<rect x="658.0" y="486.5" width="7.5" height="1.0" fill="#000"/>
<rect x="466" y="502.8" width="175" height="13.0" fill="#000"/>
<rect x="468.8" y="504.6" width="4.0" height="5.4" fill="#fff"/>
<rect x="470.0" y="511.3" width="1.6" height="4.1" fill="#fff"/>
<rect x="474.7" y="504.6" width="4.0" height="5.4" fill="#fff"/>
<rect x="475.9" y="511.3" width="1.6" height="4.1" fill="#fff"/>
<rect x="480.6" y="504.6" width="4.0" height="5.4" fill="#fff"/>
<rect x="481.8" y="511.3" width="1.6" height="4.1" fill="#fff"/>
<rect x="486.6" y="504.6" width="4.0" height="5.4" fill="#fff"/>
<rect x="487.8" y="511.3" width="1.6" height="4.1" fill="#fff"/>
<rect x="492.5" y="504.6" width="4.0" height="5.4" fill="#fff"/>
<rect x="493.7" y="511.3" width="1.6" height="4.1" fill="#fff"/>
<rect x="498.4" y="504.6" width="4.0" height="5.4" fill="#fff"/>
<rect x="499.6" y="511.3" width="1.6" height="4.1" fill="#fff"/>
<rect x="504.3" y="504.6" width="4.0" height="5.4" fill="#fff"/>
<rect x="505.5" y="511.3" width="1.6" height="4.1" fill="#fff"/>
<rect x="510.2" y="504.6" width="4.0" height="5.4" fill="#fff"/>
<rect x="511.4" y="511.3" width="1.6" height="4.1" fill="#fff"/>
<rect x="516.2" y="504.6" width="4.0" height="5.4" fill="#fff"/>
<rect x="517.4" y="511.3" width="1.6" height="4.1" fill="#fff"/>
<rect x="522.1" y="504.6" width="4.0" height="5.4" fill="#fff"/>
<rect x="523.3" y="511.3" width="1.6" height="4.1" fill="#fff"/>
<rect x="528.0" y="504.6" width="4.0" height="5.4" fill="#fff"/>
<rect x="529.2" y="511.3" width="1.6" height="4.1" fill="#fff"/>
<rect x="533.9" y="504.6" width="4.0" height="5.4" fill="#fff"/>
<rect x="535.1" y="511.3" width="1.6" height="4.1" fill="#fff"/>
<rect x="539.8" y="504.6" width="4.0" height="5.4" fill="#fff"/>
<rect x="541.0" y="511.3" width="1.6" height="4.1" fill="#fff"/>
<rect x="545.8" y="504.6" width="4.0" height="5.4" fill="#fff"/>
<rect x="547.0" y="511.3" width="1.6" height="4.1" fill="#fff"/>
<rect x="551.7" y="504.6" width="4.0" height="5.4" fill="#fff"/>
<rect x="552.9" y="511.3" width="1.6" height="4.1" fill="#fff"/>
<rect x="557.6" y="504.6" width="4.0" height="5.4" fill="#fff"/>
<rect x="558.8" y="511.3" width="1.6" height="4.1" fill="#fff"/>
<rect x="563.5" y="504.6" width="4.0" height="5.4" fill="#fff"/>
<rect x="564.7" y="511.3" width="1.6" height="4.1" fill="#fff"/>
<rect x="569.4" y="504.6" width="4.0" height="5.4" fill="#fff"/>
<rect x="570.6" y="511.3" width="1.6" height="4.1" fill="#fff"/>
<rect x="575.4" y="504.6" width="4.0" height="5.4" fill="#fff"/>
<rect x="576.6" y="511.3" width="1.6" height="4.1" fill="#fff"/>
<rect x="581.3" y="504.6" width="4.0" height="5.4" fill="#fff"/>
<rect x="582.5" y="511.3" width="1.6" height="4.1" fill="#fff"/>
<rect x="587.2" y="504.6" width="4.0" height="5.4" fill="#fff"/>
<rect x="588.4" y="511.3" width="1.6" height="4.1" fill="#fff"/>
<rect x="593.1" y="504.6" width="4.0" height="5.4" fill="#fff"/>
<rect x="594.3" y="511.3" width="1.6" height="4.1" fill="#fff"/>
<rect x="599.0" y="504.6" width="4.0" height="5.4" fill="#fff"/>
<rect x="600.2" y="511.3" width="1.6" height="4.1" fill="#fff"/>
<rect x="605.0" y="504.6" width="4.0" height="5.4" fill="#fff"/>
<rect x="606.2" y="511.3" width="1.6" height="4.1" fill="#fff"/>
<rect x="610.9" y="504.6" width="4.0" height="5.4" fill="#fff"/>
<rect x="612.1" y="511.3" width="1.6" height="4.1" fill="#fff"/>
<rect x="616.8" y="504.6" width="4.0" height="5.4" fill="#fff"/>
<rect x="618.0" y="511.3" width="1.6" height="4.1" fill="#fff"/>
<rect x="622.7" y="504.6" width="4.0" height="5.4" fill="#fff"/>
<rect x="623.9" y="511.3" width="1.6" height="4.1" fill="#fff"/>
<rect x="628.6" y="504.6" width="4.0" height="5.4" fill="#fff"/>
<rect x="629.8" y="511.3" width="1.6" height="4.1" fill="#fff"/>
<rect x="634.6" y="504.6" width="4.0" height="5.4" fill="#fff"/>
<rect x="635.8" y="511.3" width="1.6" height="4.1" fill="#fff"/>
<rect x="448" y="500.8" width="4" height="16.5" fill="#000"/>
<polyline points="452,503.3 461.5,503.3 461.5,511.8 458.5,511.8 458.5,516.8 452,516.8" fill="#fff" stroke="#000" stroke-width="1"/>
<polyline points="452,513.3 455,513.3 455,509.8 458.5,509.8 458.5,511.8" fill="none" stroke="#000" stroke-width="1"/>
<rect x="441" y="503.8" width="7.5" height="1.0" fill="#000"/>
<rect x="441" y="510.8" width="7.5" height="1.0" fill="#000"/>
<rect x="654.5" y="500.8" width="4.0" height="16.5" fill="#000"/>
<polyline points="654.5,503.3 645.0,503.3 645.0,511.8 648.0,511.8 648.0,516.8 654.5,516.8" fill="#fff" stroke="#000" stroke-width="1"/>
<polyline points="654.5,513.3 651.5,513.3 651.5,509.8 648.0,509.8 648.0,511.8" fill="none" stroke="#000" stroke-width="1"/>
<rect x="658.0" y="503.8" width="7.5" height="1.0" fill="#000"/>
<rect x="658.0" y="510.8" width="7.5" height="1.0" fill="#000"/>
<rect x="448.5" y="494.8" width="14.0" height="6" fill="#fff" stroke="#000" stroke-width="1"/>
<rect x="466.5" y="494.8" width="30.0" height="6" fill="#fff" stroke="#000" stroke-width="1"/>
<rect x="501.5" y="494.8" width="38.5" height="6" fill="#fff" stroke="#000" stroke-width="1"/>
<rect x="566" y="494.8" width="39" height="6" fill="#fff" stroke="#000" stroke-width="1"/>
<rect x="612.5" y="494.8" width="30.5" height="6" fill="#fff" stroke="#000" stroke-width="1"/>
<rect x="645.5" y="494.8" width="15.0" height="6" fill="#fff" stroke="#000" stroke-width="1"/>
<rect x="524.5" y="488.5" width="60.5" height="18" rx="3" ry="3" fill="#000"/>
<rect x="527" y="489.9" width="55.3" height="15" rx="1" ry="1" fill="#fff"/>
<text transform="translate(528.14,500.7) scale(0.75,1)" font-size="13.95" font-weight="normal" letter-spacing="2.86" fill="#000" stroke="#000" stroke-width="0.12">BANK 0</text>
<polygon points="759,241 758,223 764,223" fill="#000" stroke="#000" stroke-width="1.3" stroke-linejoin="round"/>
<rect x="748" y="206" width="26" height="19" rx="3.5" ry="3.5" fill="#000"/>
<rect x="749.5" y="207.5" width="21.5" height="15.0" rx="2.5" ry="2.5" fill="#fff"/>
<polygon points="760.1,231.1 759.14,223.0 759.49,219.82 763.21,219.82 762.86,223.0" fill="#fff"/>
<text transform="translate(753.36,218.5) scale(0.75,1)" font-size="12.5" font-weight="normal" letter-spacing="5.52" fill="#000" stroke="#000" stroke-width="0.12">J3</text>
<rect x="749" y="242" width="19" height="7" fill="#000"/>
<rect x="750" y="246.5" width="17" height="1.5" fill="#fff"/>
<rect x="751" y="243.2" width="4" height="3.3" fill="#fff"/>
<rect x="752.2" y="244.2" width="1.6" height="1.3" fill="#000"/>
<rect x="758" y="243" width="1" height="3.5" fill="#fff"/>
<rect x="763" y="243" width="1" height="3.5" fill="#fff"/>
<rect x="706.5" y="365.5" width="23" height="111" fill="#fff" stroke="#000" stroke-width="1"/>
<rect x="722" y="366" width="1" height="110" fill="#000"/>
<rect x="709.6" y="371.8" width="5.6" height="5.6" fill="#fff" stroke="#000" stroke-width="1.1"/>
<rect x="709.6" y="381.1" width="5.6" height="5.6" fill="#fff" stroke="#000" stroke-width="1.1"/>
<rect x="709.6" y="390.3" width="5.6" height="5.6" fill="#fff" stroke="#000" stroke-width="1.1"/>
<rect x="709.6" y="399.6" width="5.6" height="5.6" fill="#fff" stroke="#000" stroke-width="1.1"/>
<rect x="709.6" y="408.8" width="5.6" height="5.6" fill="#fff" stroke="#000" stroke-width="1.1"/>
<rect x="709.6" y="418.1" width="5.6" height="5.6" fill="#fff" stroke="#000" stroke-width="1.1"/>
<rect x="709.6" y="427.3" width="5.6" height="5.6" fill="#fff" stroke="#000" stroke-width="1.1"/>
<rect x="709.6" y="436.6" width="5.6" height="5.6" fill="#fff" stroke="#000" stroke-width="1.1"/>
<rect x="709.6" y="445.8" width="5.6" height="5.6" fill="#fff" stroke="#000" stroke-width="1.1"/>
<rect x="709.6" y="455.1" width="5.6" height="5.6" fill="#fff" stroke="#000" stroke-width="1.1"/>
<rect x="709.6" y="464.3" width="5.6" height="5.6" fill="#fff" stroke="#000" stroke-width="1.1"/>
<rect x="717" y="367.0" width="3" height="6.6" fill="#000"/>
<rect x="718" y="368.4" width="1" height="1.0" fill="#fff"/>
<rect x="718" y="370.6" width="1" height="1.0" fill="#fff"/>
<rect x="724" y="367.0" width="2" height="6.6" fill="#000"/>
<rect x="723" y="368.2" width="4" height="3.8" fill="#000"/>
<rect x="717" y="376.2" width="3" height="6.6" fill="#000"/>
<rect x="718" y="377.6" width="1" height="1.0" fill="#fff"/>
<rect x="718" y="379.8" width="1" height="1.0" fill="#fff"/>
<rect x="724" y="376.2" width="2" height="6.6" fill="#000"/>
<rect x="723" y="377.4" width="4" height="3.8" fill="#000"/>
<rect x="717" y="385.5" width="3" height="6.6" fill="#000"/>
<rect x="718" y="386.9" width="1" height="1.0" fill="#fff"/>
<rect x="718" y="389.1" width="1" height="1.0" fill="#fff"/>
<rect x="724" y="385.5" width="2" height="6.6" fill="#000"/>
<rect x="723" y="386.7" width="4" height="3.8" fill="#000"/>
<rect x="717" y="394.8" width="3" height="6.6" fill="#000"/>
<rect x="718" y="396.2" width="1" height="1.0" fill="#fff"/>
<rect x="718" y="398.4" width="1" height="1.0" fill="#fff"/>
<rect x="724" y="394.8" width="2" height="6.6" fill="#000"/>
<rect x="723" y="396.0" width="4" height="3.8" fill="#000"/>
<rect x="717" y="404.0" width="3" height="6.6" fill="#000"/>
<rect x="718" y="405.4" width="1" height="1.0" fill="#fff"/>
<rect x="718" y="407.6" width="1" height="1.0" fill="#fff"/>
<rect x="724" y="404.0" width="2" height="6.6" fill="#000"/>
<rect x="723" y="405.2" width="4" height="3.8" fill="#000"/>
<rect x="717" y="413.2" width="3" height="6.6" fill="#000"/>
<rect x="718" y="414.6" width="1" height="1.0" fill="#fff"/>
<rect x="718" y="416.8" width="1" height="1.0" fill="#fff"/>
<rect x="724" y="413.2" width="2" height="6.6" fill="#000"/>
<rect x="723" y="414.4" width="4" height="3.8" fill="#000"/>
<rect x="717" y="422.5" width="3" height="6.6" fill="#000"/>
<rect x="718" y="423.9" width="1" height="1.0" fill="#fff"/>
<rect x="718" y="426.1" width="1" height="1.0" fill="#fff"/>
<rect x="724" y="422.5" width="2" height="6.6" fill="#000"/>
<rect x="723" y="423.7" width="4" height="3.8" fill="#000"/>
<rect x="717" y="431.8" width="3" height="6.6" fill="#000"/>
<rect x="718" y="433.2" width="1" height="1.0" fill="#fff"/>
<rect x="718" y="435.4" width="1" height="1.0" fill="#fff"/>
<rect x="724" y="431.8" width="2" height="6.6" fill="#000"/>
<rect x="723" y="433.0" width="4" height="3.8" fill="#000"/>
<rect x="717" y="441.0" width="3" height="6.6" fill="#000"/>
<rect x="718" y="442.4" width="1" height="1.0" fill="#fff"/>
<rect x="718" y="444.6" width="1" height="1.0" fill="#fff"/>
<rect x="724" y="441.0" width="2" height="6.6" fill="#000"/>
<rect x="723" y="442.2" width="4" height="3.8" fill="#000"/>
<rect x="717" y="450.2" width="3" height="6.6" fill="#000"/>
<rect x="718" y="451.6" width="1" height="1.0" fill="#fff"/>
<rect x="718" y="453.8" width="1" height="1.0" fill="#fff"/>
<rect x="724" y="450.2" width="2" height="6.6" fill="#000"/>
<rect x="723" y="451.4" width="4" height="3.8" fill="#000"/>
<rect x="717" y="459.5" width="3" height="6.6" fill="#000"/>
<rect x="718" y="460.9" width="1" height="1.0" fill="#fff"/>
<rect x="718" y="463.1" width="1" height="1.0" fill="#fff"/>
<rect x="724" y="459.5" width="2" height="6.6" fill="#000"/>
<rect x="723" y="460.7" width="4" height="3.8" fill="#000"/>
<rect x="717" y="468.8" width="3" height="6.6" fill="#000"/>
<rect x="718" y="470.2" width="1" height="1.0" fill="#fff"/>
<rect x="718" y="472.4" width="1" height="1.0" fill="#fff"/>
<rect x="724" y="468.8" width="2" height="6.6" fill="#000"/>
<rect x="723" y="470.0" width="4" height="3.8" fill="#000"/>
<rect x="709" y="366" width="7" height="2.5" fill="#000"/>
<rect x="710.5" y="366.8" width="1.2" height="1.2" fill="#fff"/>
<polygon points="712.5,366 714,368.5 715.5,366" fill="#fff"/>
<polygon points="710,477 712,474.5 714,477" fill="#fff" stroke="#000" stroke-width="0.8"/>
<defs><pattern id="dots" width="2" height="2" patternUnits="userSpaceOnUse"><rect width="2" height="2" fill="#fff"/><rect x="0" y="0" width="1" height="1" fill="#000"/></pattern></defs>
<path d="M750.5,365.5 H773.5 L776.5,368.5 V371.5 L775,373 V377.5 L774.5,378 V382 L775,383 V388 L774.5,389 V393.5 L775,394.5 V398 L776.5,399.5 V403 L774,405.5 H750.5 L748.5,403.5 V399.5 L750,398 V394.5 L750.5,393.5 V389 L750,388 V383 L750.5,382 V378 L750,377 V373 L748.5,371.5 V368 Z" fill="url(#dots)" stroke="#000" stroke-width="1"/>
<polygon points="731,403 738,403 750,418 747,420.5" fill="#000"/>
<polygon points="733.5,404 736.5,404 743,412.5" fill="#fff"/>
<rect x="721" y="387" width="25" height="18" rx="3.5" ry="3.5" fill="#000"/>
<rect x="722.5" y="388.5" width="20.5" height="14.0" rx="2.5" ry="2.5" fill="#fff"/>
<text transform="translate(726.11,399.0) scale(0.75,1)" font-size="12.5" font-weight="normal" letter-spacing="4.95" fill="#000" stroke="#000" stroke-width="0.12">J2</text>
<rect x="748" y="415" width="26" height="7" fill="#000"/>
<rect x="749" y="420" width="24" height="1" fill="#fff"/>
<rect x="751" y="416.3" width="4" height="3.7" fill="#fff"/>
<rect x="752.2" y="417.3" width="1.6" height="1.7" fill="#000"/>
<rect x="759" y="416" width="1" height="4" fill="#fff"/>
<rect x="764.5" y="416" width="1.0" height="4" fill="#fff"/>
<rect x="770" y="416" width="1" height="4" fill="#fff"/>
<polygon points="756,433 780,433 780,428 783,428 783,425 786,425 786,477 783,477 783,474 780,474 780,470 756,470" fill="#000"/>
<rect x="749.5" y="441.5" width="7" height="8.5" fill="#fff" stroke="#000" stroke-width="1"/>
<rect x="755" y="442.5" width="2.5" height="0.8" fill="#fff"/>
<rect x="755" y="444.5" width="2.5" height="0.8" fill="#fff"/>
<rect x="755" y="446.5" width="2.5" height="0.8" fill="#fff"/>
<rect x="755" y="448.5" width="2.5" height="0.8" fill="#fff"/>
<rect x="749.5" y="452.5" width="7" height="8.5" fill="#fff" stroke="#000" stroke-width="1"/>
<rect x="755" y="453.5" width="2.5" height="0.8" fill="#fff"/>
<rect x="755" y="455.5" width="2.5" height="0.8" fill="#fff"/>
<rect x="755" y="457.5" width="2.5" height="0.8" fill="#fff"/>
<rect x="755" y="459.5" width="2.5" height="0.8" fill="#fff"/>
</g>
</svg>
</body></html>
